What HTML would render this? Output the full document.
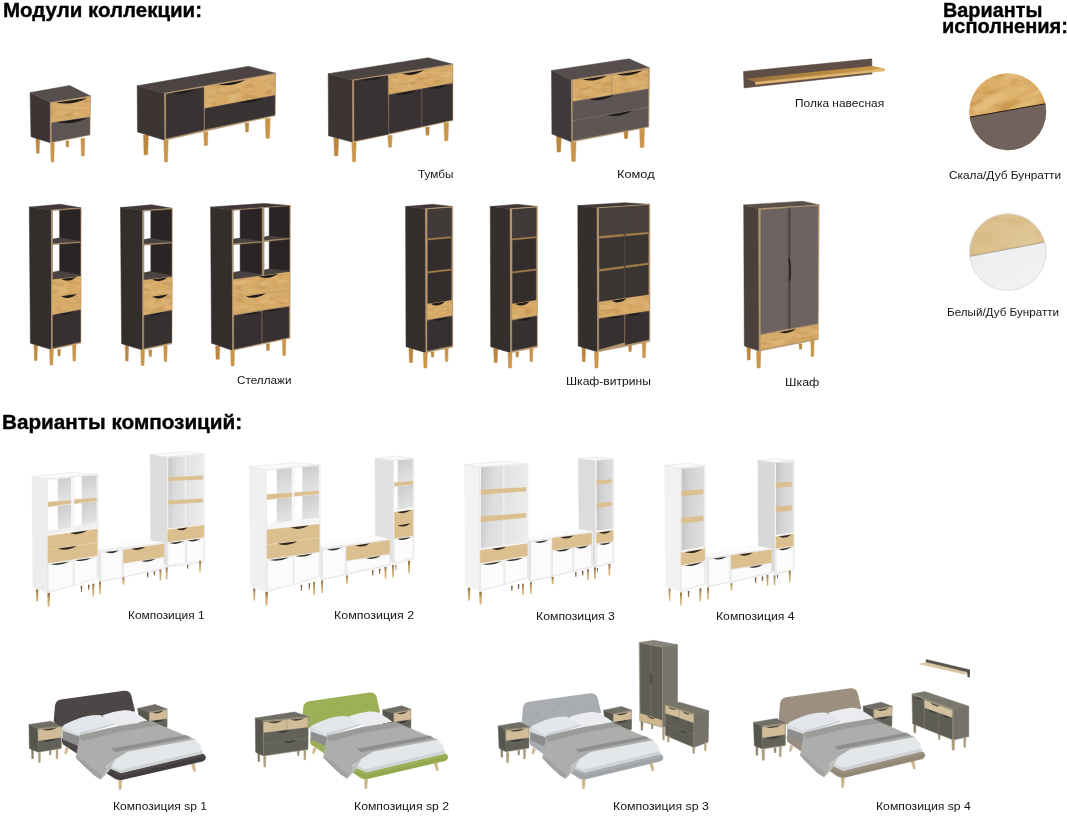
<!DOCTYPE html><html lang="ru"><head><meta charset="utf-8"><title>Модули коллекции</title><style>
html,body{margin:0;padding:0;background:#fff}
body{width:1067px;height:816px;position:relative;overflow:hidden;font-family:"Liberation Sans",sans-serif;color:#111}
svg{position:absolute;left:0;top:0;filter:blur(0.45px)}
.t{position:absolute;white-space:nowrap;line-height:1;transform-origin:0 0;margin:0}
.l{font-weight:400;color:#151515}
.h{font-weight:700;color:#000;-webkit-text-stroke:0.35px #000}
</style></head><body>
<svg width="1067" height="816" viewBox="0 0 1067 816">
<polygon points="35.9,137.8 39.6,137.8 39.1,153.3 36.5,153.3" fill="#b9873f" stroke="#b9873f" stroke-width="0.5" stroke-linejoin="round"/>
<polygon points="66.0,141.0 68.8,141.0 68.4,147.0 66.4,147.0" fill="#b9873f" stroke="#b9873f" stroke-width="0.5" stroke-linejoin="round"/>
<polygon points="30.1,92.6 50.3,102.6 50.3,142.8 31.0,136.7" fill="#3c3533" stroke="#3c3533" stroke-width="0.5" stroke-linejoin="round"/>
<polygon points="30.1,92.6 69.6,85.5 90.6,96.0 50.3,102.6" fill="#554e4c" stroke="#554e4c" stroke-width="0.5" stroke-linejoin="round"/>
<polygon points="50.3,102.6 90.6,96.0 90.0,135.1 50.3,142.8" fill="#b3946c" stroke="#b3946c" stroke-width="0.5" stroke-linejoin="round"/>
<polygon points="51.4,103.2 89.5,97.6 89.5,116.3 51.4,122.4" fill="#d8ab69" stroke="#d8ab69" stroke-width="0.7"/>
<polygon points="51.4,103.2 89.5,97.6 89.5,116.3 51.4,122.4" fill="#9a6a2c" filter="url(#grw)" opacity="0.22"/>
<polygon points="51.4,103.2 89.5,97.6 89.5,116.3 51.4,122.4" fill="#f3d6a0" filter="url(#grw2)" opacity="0.25"/>
<path d="M56.0 102.5 Q71.8 105.9 87.6 97.9 Z" fill="#1d1b1b"/>
<polygon points="52.0,123.0 89.5,117.4 89.5,134.5 52.0,141.7" fill="#5c5553" stroke="#5c5553" stroke-width="0.7"/>
<path d="M56.5 122.3 Q72.1 125.7 87.6 117.7 Z" fill="#1d1b1b"/>
<polygon points="50.5,142.8 54.4,142.8 53.8,162.0 51.1,162.0" fill="#c9954a" stroke="#c9954a" stroke-width="0.5" stroke-linejoin="round"/>
<polygon points="80.9,138.4 84.8,138.4 84.3,156.0 81.4,156.0" fill="#c9954a" stroke="#c9954a" stroke-width="0.5" stroke-linejoin="round"/>
<polygon points="143.5,135.0 148.3,135.0 147.7,154.8 144.1,154.8" fill="#b9873f" stroke="#b9873f" stroke-width="0.5" stroke-linejoin="round"/>
<polygon points="245.2,123.0 248.8,123.0 248.3,132.0 245.7,132.0" fill="#b9873f" stroke="#b9873f" stroke-width="0.5" stroke-linejoin="round"/>
<polygon points="137.2,85.8 164.5,93.3 164.8,140.2 137.5,132.0" fill="#3c3533" stroke="#3c3533" stroke-width="0.5" stroke-linejoin="round"/>
<polygon points="137.2,85.8 248.5,66.3 275.7,73.2 164.5,93.3" fill="#4b4442" stroke="#4b4442" stroke-width="0.5" stroke-linejoin="round"/>
<polygon points="164.5,93.3 275.7,73.2 275.2,115.8 164.8,140.2" fill="#b3946c" stroke="#b3946c" stroke-width="0.5" stroke-linejoin="round"/>
<polygon points="166.3,94.2 203.5,87.7 203.5,129.7 166.3,138.3" fill="#393233" stroke="#393233" stroke-width="0.7"/>
<path d="M171.9 93.2 Q184.0 95.5 196.1 89.0 Z" fill="#1d1b1b"/>
<polygon points="204.7,87.0 274.7,74.7 274.7,94.5 205.0,108.0" fill="#d8ab69" stroke="#d8ab69" stroke-width="0.7"/>
<polygon points="204.7,87.0 274.7,74.7 274.7,94.5 205.0,108.0" fill="#9a6a2c" filter="url(#grw)" opacity="0.22"/>
<polygon points="204.7,87.0 274.7,74.7 274.7,94.5 205.0,108.0" fill="#f3d6a0" filter="url(#grw2)" opacity="0.25"/>
<path d="M218.7 84.5 Q232.0 87.5 245.3 79.9 Z" fill="#1d1b1b"/>
<polygon points="205.0,108.7 274.7,95.7 274.7,114.7 205.0,129.3" fill="#393233" stroke="#393233" stroke-width="0.7"/>
<path d="M237.8 102.6 Q250.7 104.6 263.5 97.8 Z" fill="#1d1b1b"/>
<polygon points="163.8,140.2 168.2,140.2 167.5,162.0 164.5,162.0" fill="#c9954a" stroke="#c9954a" stroke-width="0.5" stroke-linejoin="round"/>
<polygon points="203.7,132.0 208.0,132.0 207.4,145.5 204.3,145.5" fill="#c9954a" stroke="#c9954a" stroke-width="0.5" stroke-linejoin="round"/>
<polygon points="265.3,118.5 270.2,118.5 269.5,138.3 266.0,138.3" fill="#c9954a" stroke="#c9954a" stroke-width="0.5" stroke-linejoin="round"/>
<polygon points="333.8,137.7 338.6,137.7 337.9,155.7 334.5,155.7" fill="#b9873f" stroke="#b9873f" stroke-width="0.5" stroke-linejoin="round"/>
<polygon points="425.6,127.2 429.4,127.2 428.8,135.2 426.2,135.2" fill="#b9873f" stroke="#b9873f" stroke-width="0.5" stroke-linejoin="round"/>
<polygon points="328.2,73.7 352.5,80.0 352.8,142.2 328.5,135.8" fill="#3c3533" stroke="#3c3533" stroke-width="0.5" stroke-linejoin="round"/>
<polygon points="328.2,73.7 428.2,57.8 453.0,64.2 352.5,80.0" fill="#4b4442" stroke="#4b4442" stroke-width="0.5" stroke-linejoin="round"/>
<polygon points="352.5,80.0 453.0,64.2 453.0,120.5 352.8,142.2" fill="#b3946c" stroke="#b3946c" stroke-width="0.5" stroke-linejoin="round"/>
<polygon points="354.3,80.7 387.7,75.8 388.2,134.0 354.7,140.7" fill="#393233" stroke="#393233" stroke-width="0.7"/>
<path d="M361.0 79.7 Q371.8 82.5 382.7 76.5 Z" fill="#1d1b1b"/>
<polygon points="389.2,75.8 452.2,65.7 452.2,82.2 389.2,93.8" fill="#d8ab69" stroke="#d8ab69" stroke-width="0.7"/>
<polygon points="389.2,75.8 452.2,65.7 452.2,82.2 389.2,93.8" fill="#9a6a2c" filter="url(#grw)" opacity="0.22"/>
<polygon points="389.2,75.8 452.2,65.7 452.2,82.2 389.2,93.8" fill="#f3d6a0" filter="url(#grw2)" opacity="0.25"/>
<path d="M401.8 73.8 Q412.8 77.3 423.9 70.2 Z" fill="#1d1b1b"/>
<polygon points="389.2,95.0 421.2,89.3 421.2,126.5 389.2,133.2" fill="#393233" stroke="#393233" stroke-width="0.7"/>
<path d="M395.6 93.9 Q406.0 96.4 416.4 90.2 Z" fill="#1d1b1b"/>
<polygon points="422.2,89.0 452.2,83.7 452.2,119.7 422.2,126.2" fill="#393233" stroke="#393233" stroke-width="0.7"/>
<path d="M428.2 87.9 Q437.9 90.6 447.7 84.5 Z" fill="#1d1b1b"/>
<polygon points="351.8,142.2 356.2,142.2 355.5,161.7 352.5,161.7" fill="#c9954a" stroke="#c9954a" stroke-width="0.5" stroke-linejoin="round"/>
<polygon points="387.8,135.5 392.2,135.5 391.5,147.2 388.5,147.2" fill="#c9954a" stroke="#c9954a" stroke-width="0.5" stroke-linejoin="round"/>
<polygon points="443.9,122.7 448.6,122.7 447.9,140.7 444.6,140.7" fill="#c9954a" stroke="#c9954a" stroke-width="0.5" stroke-linejoin="round"/>
<polygon points="556.5,135.9 561.2,135.9 560.6,152.1 557.2,152.1" fill="#b9873f" stroke="#b9873f" stroke-width="0.5" stroke-linejoin="round"/>
<polygon points="623.9,131.2 628.0,131.2 627.4,138.6 624.5,138.6" fill="#b9873f" stroke="#b9873f" stroke-width="0.5" stroke-linejoin="round"/>
<polygon points="551.5,70.5 571.3,80.0 571.7,142.0 551.9,133.9" fill="#3e3a39" stroke="#3e3a39" stroke-width="0.5" stroke-linejoin="round"/>
<polygon points="551.5,70.5 629.0,58.8 649.5,67.8 571.3,80.0" fill="#554e4c" stroke="#554e4c" stroke-width="0.5" stroke-linejoin="round"/>
<polygon points="571.3,80.0 649.5,67.8 648.9,127.1 571.7,142.0" fill="#b3946c" stroke="#b3946c" stroke-width="0.5" stroke-linejoin="round"/>
<polygon points="573.0,80.9 610.8,75.2 610.8,94.4 573.0,100.8" fill="#d8ab69" stroke="#d8ab69" stroke-width="0.7"/>
<polygon points="573.0,80.9 610.8,75.2 610.8,94.4 573.0,100.8" fill="#9a6a2c" filter="url(#grw)" opacity="0.22"/>
<polygon points="573.0,80.9 610.8,75.2 610.8,94.4 573.0,100.8" fill="#f3d6a0" filter="url(#grw2)" opacity="0.25"/>
<path d="M582.5 79.5 Q594.7 82.9 607.0 75.8 Z" fill="#1d1b1b"/>
<polygon points="612.5,75.0 647.9,69.6 647.9,88.0 612.5,93.8" fill="#d8ab69" stroke="#d8ab69" stroke-width="0.7"/>
<polygon points="612.5,75.0 647.9,69.6 647.9,88.0 612.5,93.8" fill="#9a6a2c" filter="url(#grw)" opacity="0.22"/>
<polygon points="612.5,75.0 647.9,69.6 647.9,88.0 612.5,93.8" fill="#f3d6a0" filter="url(#grw2)" opacity="0.25"/>
<path d="M616.7 74.4 Q629.7 77.7 642.6 70.4 Z" fill="#1d1b1b"/>
<polygon points="573.0,101.9 647.9,89.4 647.9,106.9 573.0,120.4" fill="#5d5655" stroke="#5d5655" stroke-width="0.7"/>
<path d="M589.5 99.2 Q601.8 102.4 614.2 95.0 Z" fill="#1d1b1b"/>
<polygon points="573.0,121.3 647.9,107.9 647.9,126.2 573.0,140.2" fill="#5d5655" stroke="#5d5655" stroke-width="0.7"/>
<path d="M606.7 115.3 Q619.8 118.2 632.9 110.6 Z" fill="#1d1b1b"/>
<polygon points="570.9,142.0 576.1,142.0 575.3,161.5 571.7,161.5" fill="#c9954a" stroke="#c9954a" stroke-width="0.5" stroke-linejoin="round"/>
<polygon points="639.6,128.5 644.5,128.5 643.8,147.4 640.3,147.4" fill="#c9954a" stroke="#c9954a" stroke-width="0.5" stroke-linejoin="round"/>
<polygon points="743.5,71.5 871.8,58.8 872.1,73.9 744.0,87.9" fill="#5f4e45" stroke="#5f4e45" stroke-width="0.5" stroke-linejoin="round"/>
<polygon points="745.9,78.7 872.6,65.9 884.6,68.8 755.5,82.2" fill="url(#shg)" />
<polygon points="755.5,82.2 884.6,68.8 884.6,70.9 755.5,84.5" fill="#e2b76f" stroke="#e2b76f" stroke-width="0.5" stroke-linejoin="round"/>
<polygon points="34.0,345.0 37.4,345.0 36.9,360.5 34.5,360.5" fill="#b9873f" stroke="#b9873f" stroke-width="0.5" stroke-linejoin="round"/>
<polygon points="57.6,349.5 60.6,349.5 60.1,356.0 58.1,356.0" fill="#b9873f" stroke="#b9873f" stroke-width="0.5" stroke-linejoin="round"/>
<polygon points="29.3,207.1 51.4,210.0 51.4,349.5 30.4,343.3" fill="#332d2c" stroke="#332d2c" stroke-width="0.5" stroke-linejoin="round"/>
<polygon points="29.3,207.1 60.2,204.3 81.2,207.8 51.4,210.0" fill="#403937" stroke="#403937" stroke-width="0.5" stroke-linejoin="round"/>
<polygon points="51.4,210.0 81.2,207.8 80.8,343.3 51.4,349.5" fill="#b3946c" stroke="#b3946c" stroke-width="0.5" stroke-linejoin="round"/>
<polygon points="53.0,210.9 80.3,208.9 80.3,241.3 53.0,239.1" fill="#2a2524" stroke="#2a2524" stroke-width="0.5" stroke-linejoin="round"/>
<polygon points="53.0,210.9 59.1,210.4 59.1,238.0 53.0,238.9" fill="#ffffff" stroke="#ffffff" stroke-width="0.5" stroke-linejoin="round"/>
<polygon points="53.0,239.1 59.1,238.0 80.3,241.1 80.3,242.7 53.0,244.4" fill="#4a4341" stroke="#4a4341" stroke-width="0.5" stroke-linejoin="round"/>
<polygon points="53.0,243.8 80.3,242.0 80.3,242.9 53.0,244.9" fill="#b3946c" stroke="#b3946c" stroke-width="0.5" stroke-linejoin="round"/>
<polygon points="53.0,245.1 80.3,243.1 80.3,275.5 53.0,272.7" fill="#2a2524" stroke="#2a2524" stroke-width="0.5" stroke-linejoin="round"/>
<polygon points="53.0,245.1 59.1,244.6 59.1,271.1 53.0,272.2" fill="#ffffff" stroke="#ffffff" stroke-width="0.5" stroke-linejoin="round"/>
<polygon points="53.0,272.2 59.1,271.1 80.3,274.9 80.3,276.2 53.0,279.3" fill="#4a4341" stroke="#4a4341" stroke-width="0.5" stroke-linejoin="round"/>
<polygon points="52.5,280.0 80.8,276.6 80.8,292.1 52.5,297.0" fill="#d8ab69" stroke="#d8ab69" stroke-width="0.7"/>
<polygon points="52.5,280.0 80.8,276.6 80.8,292.1 52.5,297.0" fill="#9a6a2c" filter="url(#grw)" opacity="0.22"/>
<polygon points="52.5,280.0 80.8,276.6 80.8,292.1 52.5,297.0" fill="#f3d6a0" filter="url(#grw2)" opacity="0.25"/>
<path d="M61.0 279.0 Q68.8 283.3 76.6 277.1 Z" fill="#1d1b1b"/>
<polygon points="52.5,297.6 80.8,293.2 80.8,308.6 52.5,314.2" fill="#d8ab69" stroke="#d8ab69" stroke-width="0.7"/>
<polygon points="52.5,297.6 80.8,293.2 80.8,308.6 52.5,314.2" fill="#9a6a2c" filter="url(#grw)" opacity="0.22"/>
<polygon points="52.5,297.6 80.8,293.2 80.8,308.6 52.5,314.2" fill="#f3d6a0" filter="url(#grw2)" opacity="0.25"/>
<path d="M61.0 296.3 Q68.8 300.4 76.6 293.9 Z" fill="#1d1b1b"/>
<polygon points="53.0,315.3 80.3,310.2 80.3,341.7 53.0,347.7" fill="#363031" stroke="#363031" stroke-width="0.7"/>
<path d="M58.5 314.3 Q66.7 316.3 74.8 311.2 Z" fill="#1d1b1b"/>
<polygon points="49.5,349.5 53.4,349.5 52.8,365.0 50.1,365.0" fill="#c9954a" stroke="#c9954a" stroke-width="0.5" stroke-linejoin="round"/>
<polygon points="72.5,345.0 76.0,345.0 75.5,361.0 73.0,361.0" fill="#c9954a" stroke="#c9954a" stroke-width="0.5" stroke-linejoin="round"/>
<polygon points="125.2,345.5 128.5,345.5 128.1,361.0 125.7,361.0" fill="#b9873f" stroke="#b9873f" stroke-width="0.5" stroke-linejoin="round"/>
<polygon points="148.8,350.0 151.8,350.0 151.3,356.5 149.3,356.5" fill="#b9873f" stroke="#b9873f" stroke-width="0.5" stroke-linejoin="round"/>
<polygon points="120.5,207.6 142.6,210.5 142.6,350.0 121.6,343.8" fill="#332d2c" stroke="#332d2c" stroke-width="0.5" stroke-linejoin="round"/>
<polygon points="120.5,207.6 151.4,204.8 172.4,208.3 142.6,210.5" fill="#403937" stroke="#403937" stroke-width="0.5" stroke-linejoin="round"/>
<polygon points="142.6,210.5 172.4,208.3 172.0,343.8 142.6,350.0" fill="#b3946c" stroke="#b3946c" stroke-width="0.5" stroke-linejoin="round"/>
<polygon points="144.2,211.4 171.5,209.4 171.5,241.8 144.2,239.6" fill="#2a2524" stroke="#2a2524" stroke-width="0.5" stroke-linejoin="round"/>
<polygon points="144.2,211.4 150.3,210.9 150.3,238.5 144.2,239.4" fill="#ffffff" stroke="#ffffff" stroke-width="0.5" stroke-linejoin="round"/>
<polygon points="144.2,239.6 150.3,238.5 171.5,241.6 171.5,243.2 144.2,244.9" fill="#4a4341" stroke="#4a4341" stroke-width="0.5" stroke-linejoin="round"/>
<polygon points="144.2,244.3 171.5,242.5 171.5,243.4 144.2,245.4" fill="#b3946c" stroke="#b3946c" stroke-width="0.5" stroke-linejoin="round"/>
<polygon points="144.2,245.6 171.5,243.6 171.5,276.0 144.2,273.2" fill="#2a2524" stroke="#2a2524" stroke-width="0.5" stroke-linejoin="round"/>
<polygon points="144.2,245.6 150.3,245.1 150.3,271.6 144.2,272.7" fill="#ffffff" stroke="#ffffff" stroke-width="0.5" stroke-linejoin="round"/>
<polygon points="144.2,272.7 150.3,271.6 171.5,275.4 171.5,276.7 144.2,279.8" fill="#4a4341" stroke="#4a4341" stroke-width="0.5" stroke-linejoin="round"/>
<polygon points="143.7,280.5 172.0,277.1 172.0,292.6 143.7,297.5" fill="#d8ab69" stroke="#d8ab69" stroke-width="0.7"/>
<polygon points="143.7,280.5 172.0,277.1 172.0,292.6 143.7,297.5" fill="#9a6a2c" filter="url(#grw)" opacity="0.22"/>
<polygon points="143.7,280.5 172.0,277.1 172.0,292.6 143.7,297.5" fill="#f3d6a0" filter="url(#grw2)" opacity="0.25"/>
<path d="M152.2 279.5 Q160.0 283.8 167.8 277.6 Z" fill="#1d1b1b"/>
<polygon points="143.7,298.1 172.0,293.7 172.0,309.1 143.7,314.7" fill="#d8ab69" stroke="#d8ab69" stroke-width="0.7"/>
<polygon points="143.7,298.1 172.0,293.7 172.0,309.1 143.7,314.7" fill="#9a6a2c" filter="url(#grw)" opacity="0.22"/>
<polygon points="143.7,298.1 172.0,293.7 172.0,309.1 143.7,314.7" fill="#f3d6a0" filter="url(#grw2)" opacity="0.25"/>
<path d="M152.2 296.8 Q160.0 300.9 167.8 294.4 Z" fill="#1d1b1b"/>
<polygon points="144.2,315.8 171.5,310.7 171.5,342.2 144.2,348.2" fill="#363031" stroke="#363031" stroke-width="0.7"/>
<path d="M149.7 314.8 Q157.8 316.8 166.0 311.7 Z" fill="#1d1b1b"/>
<polygon points="140.8,350.0 144.5,350.0 144.0,365.5 141.3,365.5" fill="#c9954a" stroke="#c9954a" stroke-width="0.5" stroke-linejoin="round"/>
<polygon points="163.7,345.5 167.2,345.5 166.7,361.5 164.2,361.5" fill="#c9954a" stroke="#c9954a" stroke-width="0.5" stroke-linejoin="round"/>
<polygon points="215.6,346.0 219.8,346.0 219.2,359.2 216.1,359.2" fill="#b9873f" stroke="#b9873f" stroke-width="0.5" stroke-linejoin="round"/>
<polygon points="266.2,343.8 269.6,343.8 269.1,350.4 266.7,350.4" fill="#b9873f" stroke="#b9873f" stroke-width="0.5" stroke-linejoin="round"/>
<polygon points="210.6,207.1 232.0,210.0 232.6,350.4 211.5,343.2" fill="#332d2c" stroke="#332d2c" stroke-width="0.5" stroke-linejoin="round"/>
<polygon points="210.6,207.1 263.9,203.4 290.4,205.6 232.0,210.0" fill="#403937" stroke="#403937" stroke-width="0.5" stroke-linejoin="round"/>
<polygon points="232.0,210.0 290.4,205.6 290.0,338.3 232.6,350.4" fill="#b3946c" stroke="#b3946c" stroke-width="0.5" stroke-linejoin="round"/>
<polygon points="233.7,210.7 261.7,208.4 261.7,241.7 233.7,239.1" fill="#2a2524" stroke="#2a2524" stroke-width="0.5" stroke-linejoin="round"/>
<polygon points="233.7,210.7 239.7,210.2 239.7,238.2 233.7,239.1" fill="#fff" stroke="#fff" stroke-width="0.5" stroke-linejoin="round"/>
<polygon points="233.7,239.1 239.7,238.2 261.7,241.3 261.7,242.4 233.7,244.4" fill="#4a4341" stroke="#4a4341" stroke-width="0.5" stroke-linejoin="round"/>
<polygon points="233.7,243.7 261.7,241.7 261.7,242.6 233.7,244.8" fill="#b3946c" stroke="#b3946c" stroke-width="0.5" stroke-linejoin="round"/>
<polygon points="233.7,245.0 261.7,242.8 261.7,274.8 233.7,272.6" fill="#2a2524" stroke="#2a2524" stroke-width="0.5" stroke-linejoin="round"/>
<polygon points="233.7,245.0 239.7,244.6 239.7,271.3 233.7,272.4" fill="#fff" stroke="#fff" stroke-width="0.5" stroke-linejoin="round"/>
<polygon points="233.7,272.4 239.7,271.3 261.7,274.4 261.7,275.7 233.7,279.2" fill="#4a4341" stroke="#4a4341" stroke-width="0.5" stroke-linejoin="round"/>
<polygon points="264.4,208.0 289.3,206.2 289.3,238.7 264.4,236.9" fill="#2a2524" stroke="#2a2524" stroke-width="0.5" stroke-linejoin="round"/>
<polygon points="264.4,208.0 268.8,207.8 268.8,236.0 264.4,236.9" fill="#fff" stroke="#fff" stroke-width="0.5" stroke-linejoin="round"/>
<polygon points="264.4,236.9 268.8,236.0 289.3,238.2 289.3,239.1 264.4,241.3" fill="#4a4341" stroke="#4a4341" stroke-width="0.5" stroke-linejoin="round"/>
<polygon points="264.4,240.6 289.3,238.4 289.3,239.3 264.4,241.7" fill="#b3946c" stroke="#b3946c" stroke-width="0.5" stroke-linejoin="round"/>
<polygon points="264.4,242.0 289.3,239.5 289.3,271.5 264.4,270.0" fill="#2a2524" stroke="#2a2524" stroke-width="0.5" stroke-linejoin="round"/>
<polygon points="264.4,242.0 268.8,241.5 268.8,269.1 264.4,270.0" fill="#fff" stroke="#fff" stroke-width="0.5" stroke-linejoin="round"/>
<polygon points="264.4,270.0 268.8,269.1 289.3,271.1 289.3,271.9 264.4,275.2" fill="#4a4341" stroke="#4a4341" stroke-width="0.5" stroke-linejoin="round"/>
<polygon points="233.5,279.9 289.3,272.2 289.3,288.7 233.5,296.9" fill="#d8ab69" stroke="#d8ab69" stroke-width="0.7"/>
<polygon points="233.5,279.9 289.3,272.2 289.3,288.7 233.5,296.9" fill="#9a6a2c" filter="url(#grw)" opacity="0.22"/>
<polygon points="233.5,279.9 289.3,272.2 289.3,288.7 233.5,296.9" fill="#f3d6a0" filter="url(#grw2)" opacity="0.25"/>
<path d="M258.6 276.4 Q268.4 280.4 278.1 273.7 Z" fill="#1d1b1b"/>
<polygon points="233.5,298.2 289.3,289.8 289.3,305.2 233.5,314.0" fill="#d8ab69" stroke="#d8ab69" stroke-width="0.7"/>
<polygon points="233.5,298.2 289.3,289.8 289.3,305.2 233.5,314.0" fill="#9a6a2c" filter="url(#grw)" opacity="0.22"/>
<polygon points="233.5,298.2 289.3,289.8 289.3,305.2 233.5,314.0" fill="#f3d6a0" filter="url(#grw2)" opacity="0.25"/>
<path d="M245.8 296.4 Q255.8 300.1 265.9 293.3 Z" fill="#1d1b1b"/>
<polygon points="234.2,315.8 261.3,311.4 261.3,343.1 234.2,348.9" fill="#363031" stroke="#363031" stroke-width="0.7"/>
<path d="M242.3 314.5 Q251.1 316.6 259.9 311.6 Z" fill="#1d1b1b"/>
<polygon points="262.6,311.0 288.8,307.0 288.8,337.2 262.6,342.7" fill="#363031" stroke="#363031" stroke-width="0.7"/>
<path d="M263.9 310.8 Q272.4 313.0 280.9 308.2 Z" fill="#1d1b1b"/>
<polygon points="230.6,350.4 234.5,350.4 234.0,365.9 231.1,365.9" fill="#c9954a" stroke="#c9954a" stroke-width="0.5" stroke-linejoin="round"/>
<polygon points="282.3,339.4 285.9,339.4 285.4,355.5 282.8,355.5" fill="#c9954a" stroke="#c9954a" stroke-width="0.5" stroke-linejoin="round"/>
<polygon points="408.9,348.2 413.0,348.2 412.4,362.6 409.5,362.6" fill="#b9873f" stroke="#b9873f" stroke-width="0.5" stroke-linejoin="round"/>
<polygon points="431.0,352.0 434.0,352.0 433.5,357.0 431.5,357.0" fill="#b9873f" stroke="#b9873f" stroke-width="0.5" stroke-linejoin="round"/>
<polygon points="405.6,206.5 425.4,208.7 425.9,352.7 406.0,346.7" fill="#342e2d" stroke="#342e2d" stroke-width="0.5" stroke-linejoin="round"/>
<polygon points="405.6,206.5 432.5,204.3 452.8,206.5 425.4,208.7" fill="#403937" stroke="#403937" stroke-width="0.5" stroke-linejoin="round"/>
<polygon points="425.4,208.7 452.8,206.5 452.8,347.2 425.9,352.7" fill="#b3946c" stroke="#b3946c" stroke-width="0.5" stroke-linejoin="round"/>
<polygon points="427.9,209.8 451.2,208.0 451.2,300.4 427.9,303.7" fill="#332d2c" stroke="#332d2c" stroke-width="0.5" stroke-linejoin="round"/>
<polygon points="427.9,209.8 451.2,208.0 451.2,236.9 427.9,238.7" fill="#403a38" stroke="#403a38" stroke-width="0.5" stroke-linejoin="round"/>
<polygon points="427.9,238.7 451.2,236.7 451.2,237.8 427.9,240.0" fill="#a9814a" stroke="#a9814a" stroke-width="0.5" stroke-linejoin="round"/>
<polygon points="427.9,271.7 451.2,269.1 451.2,270.2 427.9,273.1" fill="#a9814a" stroke="#a9814a" stroke-width="0.5" stroke-linejoin="round"/>
<polygon points="427.6,304.2 451.9,300.4 451.9,314.5 427.6,318.9" fill="#d8ab69" stroke="#d8ab69" stroke-width="0.7"/>
<polygon points="427.6,304.2 451.9,300.4 451.9,314.5 427.6,318.9" fill="#9a6a2c" filter="url(#grw)" opacity="0.22"/>
<polygon points="427.6,304.2 451.9,300.4 451.9,314.5 427.6,318.9" fill="#f3d6a0" filter="url(#grw2)" opacity="0.25"/>
<path d="M430.5 303.7 Q437.8 308.3 445.1 301.5 Z" fill="#1d1b1b"/>
<polygon points="427.6,320.7 451.9,316.3 451.9,345.4 427.6,350.5" fill="#363031" stroke="#363031" stroke-width="0.7"/>
<path d="M432.5 319.8 Q440.4 322.8 448.3 317.0 Z" fill="#1d1b1b"/>
<polygon points="423.3,352.7 427.4,352.7 426.8,368.0 423.9,368.0" fill="#c9954a" stroke="#c9954a" stroke-width="0.5" stroke-linejoin="round"/>
<polygon points="444.9,348.2 448.2,348.2 447.8,361.5 445.4,361.5" fill="#c9954a" stroke="#c9954a" stroke-width="0.5" stroke-linejoin="round"/>
<polygon points="493.6,348.2 497.7,348.2 497.1,362.6 494.2,362.6" fill="#b9873f" stroke="#b9873f" stroke-width="0.5" stroke-linejoin="round"/>
<polygon points="515.8,352.0 518.7,352.0 518.2,357.0 516.2,357.0" fill="#b9873f" stroke="#b9873f" stroke-width="0.5" stroke-linejoin="round"/>
<polygon points="490.3,206.5 510.1,208.7 510.6,352.7 490.7,346.7" fill="#342e2d" stroke="#342e2d" stroke-width="0.5" stroke-linejoin="round"/>
<polygon points="490.3,206.5 517.2,204.3 537.5,206.5 510.1,208.7" fill="#403937" stroke="#403937" stroke-width="0.5" stroke-linejoin="round"/>
<polygon points="510.1,208.7 537.5,206.5 537.5,347.2 510.6,352.7" fill="#b3946c" stroke="#b3946c" stroke-width="0.5" stroke-linejoin="round"/>
<polygon points="512.6,209.8 535.9,208.0 535.9,300.4 512.6,303.7" fill="#332d2c" stroke="#332d2c" stroke-width="0.5" stroke-linejoin="round"/>
<polygon points="512.6,209.8 535.9,208.0 535.9,236.9 512.6,238.7" fill="#403a38" stroke="#403a38" stroke-width="0.5" stroke-linejoin="round"/>
<polygon points="512.6,238.7 535.9,236.7 535.9,237.8 512.6,240.0" fill="#a9814a" stroke="#a9814a" stroke-width="0.5" stroke-linejoin="round"/>
<polygon points="512.6,271.7 535.9,269.1 535.9,270.2 512.6,273.1" fill="#a9814a" stroke="#a9814a" stroke-width="0.5" stroke-linejoin="round"/>
<polygon points="512.3,304.2 536.6,300.4 536.6,314.5 512.3,318.9" fill="#d8ab69" stroke="#d8ab69" stroke-width="0.7"/>
<polygon points="512.3,304.2 536.6,300.4 536.6,314.5 512.3,318.9" fill="#9a6a2c" filter="url(#grw)" opacity="0.22"/>
<polygon points="512.3,304.2 536.6,300.4 536.6,314.5 512.3,318.9" fill="#f3d6a0" filter="url(#grw2)" opacity="0.25"/>
<path d="M515.2 303.7 Q522.5 308.3 529.8 301.5 Z" fill="#1d1b1b"/>
<polygon points="512.3,320.7 536.6,316.3 536.6,345.4 512.3,350.5" fill="#363031" stroke="#363031" stroke-width="0.7"/>
<path d="M517.2 319.8 Q525.1 322.8 533.0 317.0 Z" fill="#1d1b1b"/>
<polygon points="508.0,352.7 512.0,352.7 511.5,368.0 508.6,368.0" fill="#c9954a" stroke="#c9954a" stroke-width="0.5" stroke-linejoin="round"/>
<polygon points="529.6,348.2 533.0,348.2 532.5,361.5 530.1,361.5" fill="#c9954a" stroke="#c9954a" stroke-width="0.5" stroke-linejoin="round"/>
<polygon points="581.9,347.0 585.6,347.0 585.1,361.5 582.4,361.5" fill="#b9873f" stroke="#b9873f" stroke-width="0.5" stroke-linejoin="round"/>
<polygon points="628.6,345.4 631.6,345.4 631.1,351.5 629.1,351.5" fill="#b9873f" stroke="#b9873f" stroke-width="0.5" stroke-linejoin="round"/>
<polygon points="577.8,205.6 597.0,207.8 597.6,352.0 578.2,346.0" fill="#342e2d" stroke="#342e2d" stroke-width="0.5" stroke-linejoin="round"/>
<polygon points="577.8,205.6 624.5,202.7 649.9,204.3 597.0,207.8" fill="#403937" stroke="#403937" stroke-width="0.5" stroke-linejoin="round"/>
<polygon points="597.0,207.8 649.9,204.3 649.9,341.6 597.6,352.0" fill="#b3946c" stroke="#b3946c" stroke-width="0.5" stroke-linejoin="round"/>
<polygon points="599.4,208.7 648.3,205.4 648.3,294.6 599.4,301.5" fill="#3a3432" stroke="#3a3432" stroke-width="0.5" stroke-linejoin="round"/>
<polygon points="599.4,208.7 648.3,205.4 648.3,232.5 599.4,236.4" fill="#47403d" stroke="#47403d" stroke-width="0.5" stroke-linejoin="round"/>
<polygon points="599.4,236.4 648.3,232.3 648.3,233.8 599.4,238.2" fill="#a9814a" stroke="#a9814a" stroke-width="0.5" stroke-linejoin="round"/>
<polygon points="599.4,269.5 648.3,262.9 648.3,264.4 599.4,271.3" fill="#a9814a" stroke="#a9814a" stroke-width="0.5" stroke-linejoin="round"/>
<polygon points="624.1,207.1 625.0,207.1 625.0,297.7 624.1,298.0" fill="#4a4442" stroke="#4a4442" stroke-width="0.5" stroke-linejoin="round"/>
<polygon points="599.2,302.6 648.8,295.3 648.8,310.1 599.2,317.4" fill="#d8ab69" stroke="#d8ab69" stroke-width="0.7"/>
<polygon points="599.2,302.6 648.8,295.3 648.8,310.1 599.2,317.4" fill="#9a6a2c" filter="url(#grw)" opacity="0.22"/>
<polygon points="599.2,302.6 648.8,295.3 648.8,310.1 599.2,317.4" fill="#f3d6a0" filter="url(#grw2)" opacity="0.25"/>
<path d="M611.6 300.8 Q619.0 305.0 626.5 298.6 Z" fill="#1d1b1b"/>
<polygon points="599.2,318.9 624.1,315.2 624.1,342.3 599.2,349.3" fill="#363031" stroke="#363031" stroke-width="0.7"/>
<path d="M606.7 317.8 Q614.8 320.1 622.9 315.4 Z" fill="#1d1b1b"/>
<polygon points="625.4,314.9 648.8,311.4 648.8,339.4 625.4,344.5" fill="#363031" stroke="#363031" stroke-width="0.7"/>
<path d="M626.6 314.7 Q634.2 317.1 641.8 312.4 Z" fill="#1d1b1b"/>
<polygon points="594.4,352.0 598.5,352.0 597.9,368.0 595.0,368.0" fill="#c9954a" stroke="#c9954a" stroke-width="0.5" stroke-linejoin="round"/>
<polygon points="642.2,342.3 645.9,342.3 645.3,357.7 642.8,357.7" fill="#c9954a" stroke="#c9954a" stroke-width="0.5" stroke-linejoin="round"/>
<polygon points="746.9,347.0 750.6,347.0 750.1,360.0 747.4,360.0" fill="#b9873f" stroke="#b9873f" stroke-width="0.5" stroke-linejoin="round"/>
<polygon points="799.0,343.8 802.0,343.8 801.5,349.3 799.5,349.3" fill="#b9873f" stroke="#b9873f" stroke-width="0.5" stroke-linejoin="round"/>
<polygon points="743.7,204.9 758.7,208.7 759.1,351.1 744.3,346.0" fill="#4a413c" stroke="#4a413c" stroke-width="0.5" stroke-linejoin="round"/>
<polygon points="743.7,204.9 802.8,201.2 819.3,204.9 758.7,208.7" fill="#5a4f49" stroke="#5a4f49" stroke-width="0.5" stroke-linejoin="round"/>
<polygon points="758.7,208.7 819.3,204.9 818.2,339.4 759.1,351.1" fill="#b3946c" stroke="#b3946c" stroke-width="0.5" stroke-linejoin="round"/>
<polygon points="760.9,210.0 788.4,208.2 788.4,328.4 760.9,333.9" fill="#6c6360" stroke="#6c6360" stroke-width="0.5" stroke-linejoin="round"/>
<polygon points="790.0,207.8 817.7,206.0 817.7,323.3 790.0,328.4" fill="#6c6360" stroke="#6c6360" stroke-width="0.5" stroke-linejoin="round"/>
<polygon points="788.4,208.2 790.0,207.8 790.0,328.4 788.4,328.4" fill="#4a4340" stroke="#4a4340" stroke-width="0.5" stroke-linejoin="round"/>
<polygon points="760.9,335.7 817.7,325.1 817.7,337.9 760.9,349.3" fill="#d8ab69" stroke="#d8ab69" stroke-width="0.7"/>
<polygon points="760.9,335.7 817.7,325.1 817.7,337.9 760.9,349.3" fill="#9a6a2c" filter="url(#grw)" opacity="0.22"/>
<polygon points="760.9,335.7 817.7,325.1 817.7,337.9 760.9,349.3" fill="#f3d6a0" filter="url(#grw2)" opacity="0.25"/>
<path d="M779.6 332.2 Q787.9 335.1 796.1 329.1 Z" fill="#1d1b1b"/>
<path d="M789 259 Q791.5 270 789.4 281" stroke="#1d1b1b" stroke-width="1.3" fill="none"/>
<polygon points="756.5,351.1 760.8,351.1 760.2,368.0 757.1,368.0" fill="#c9954a" stroke="#c9954a" stroke-width="0.5" stroke-linejoin="round"/>
<polygon points="810.8,340.5 814.1,340.5 813.7,356.4 811.2,356.4" fill="#c9954a" stroke="#c9954a" stroke-width="0.5" stroke-linejoin="round"/>
<defs>
<clipPath id="c1"><circle cx="1007.7" cy="111.8" r="38.5"/></clipPath>
<clipPath id="c2"><circle cx="1007.8" cy="252" r="38.4"/></clipPath>
<linearGradient id="w1" x1="0" y1="0" x2="1" y2="0.3"><stop offset="0" stop-color="#d9aa62"/><stop offset="0.5" stop-color="#dfb36d"/><stop offset="1" stop-color="#d6a65d"/></linearGradient>
<linearGradient id="w2" x1="0" y1="0" x2="1" y2="0.3"><stop offset="0" stop-color="#d9bd8a"/><stop offset="1" stop-color="#e2c898"/></linearGradient>
<linearGradient id="wh" x1="0" y1="0" x2="1" y2="1"><stop offset="0" stop-color="#ececee"/><stop offset="1" stop-color="#f4f4f6"/></linearGradient>
<linearGradient id="gi" x1="0" y1="0" x2="1" y2="0.15"><stop offset="0" stop-color="#c6c6c6"/><stop offset="0.3" stop-color="#dddddd"/><stop offset="1" stop-color="#ebebeb"/></linearGradient>
<linearGradient id="gi2" x1="0" y1="0" x2="1" y2="0.1"><stop offset="0" stop-color="#c2c2c2"/><stop offset="0.35" stop-color="#d2d2d2"/><stop offset="1" stop-color="#dedede"/></linearGradient>
<linearGradient id="shg" x1="0" y1="0" x2="1" y2="0"><stop offset="0" stop-color="#94703f"/><stop offset="0.6" stop-color="#b98a42"/><stop offset="1" stop-color="#cf9c48"/></linearGradient>
<filter id="grw" x="0" y="0" width="100%" height="100%" color-interpolation-filters="sRGB"><feTurbulence type="fractalNoise" baseFrequency="0.09 0.22" numOctaves="2" seed="4"/><feColorMatrix type="matrix" values="0 0 0 0 0.60  0 0 0 0 0.42  0 0 0 0 0.17  4.5 0 0 0 -2.3"/><feComposite operator="in" in2="SourceGraphic"/></filter>
<filter id="grw2" x="0" y="0" width="100%" height="100%" color-interpolation-filters="sRGB"><feTurbulence type="fractalNoise" baseFrequency="0.07 0.2" numOctaves="2" seed="9"/><feColorMatrix type="matrix" values="0 0 0 0 0.95  0 0 0 0 0.84  0 0 0 0 0.63  0 4.5 0 0 -2.35"/><feComposite operator="in" in2="SourceGraphic"/></filter>
<linearGradient id="ng" x1="0" y1="0" x2="0.3" y2="1"><stop offset="0" stop-color="#c9c9c9"/><stop offset="1" stop-color="#e2e2e2"/></linearGradient>
<linearGradient id="lg" x1="0" y1="0" x2="0" y2="1"><stop offset="0" stop-color="#8a7049"/><stop offset="0.45" stop-color="#c7a36a"/><stop offset="1" stop-color="#dbb980"/></linearGradient>
<linearGradient id="lgb" x1="0" y1="0" x2="0" y2="1"><stop offset="0" stop-color="#5e4e38"/><stop offset="1" stop-color="#a48a62"/></linearGradient>
<filter id="gr" x="0" y="0" width="100%" height="100%" color-interpolation-filters="sRGB"><feTurbulence type="fractalNoise" baseFrequency="0.03 0.1" numOctaves="3" seed="11"/><feColorMatrix type="matrix" values="0 0 0 0 0.70  0 0 0 0 0.47  0 0 0 0 0.18  5 0 0 0 -2.45"/><feComposite operator="in" in2="SourceGraphic"/></filter>
<filter id="grl" x="0" y="0" width="100%" height="100%" color-interpolation-filters="sRGB"><feTurbulence type="fractalNoise" baseFrequency="0.025 0.08" numOctaves="2" seed="23"/><feColorMatrix type="matrix" values="0 0 0 0 0.93  0 0 0 0 0.80  0 0 0 0 0.58  0 5 0 0 -2.6"/><feComposite operator="in" in2="SourceGraphic"/></filter>
<filter id="gr2" x="0" y="0" width="100%" height="100%" color-interpolation-filters="sRGB"><feTurbulence type="fractalNoise" baseFrequency="0.03 0.12" numOctaves="2" seed="5"/><feColorMatrix type="matrix" values="0 0 0 0 0.80  0 0 0 0 0.67  0 0 0 0 0.44  4 0 0 0 -2.0"/><feComposite operator="in" in2="SourceGraphic"/></filter>
</defs>
<g clip-path="url(#c1)"><rect x="960" y="66" width="100" height="92" fill="url(#w1)"/><g transform="rotate(-22 1007 95)" opacity="0.42"><rect x="950" y="50" width="120" height="90" fill="#b07d3a" filter="url(#gr)"/><rect x="950" y="50" width="120" height="90" fill="#fff" filter="url(#grl)"/></g><polygon points="960,118.8 1060,101.2 1060,160 960,160" fill="#70625c"/><line x1="960" y1="118.8" x2="1060" y2="101.2" stroke="#2a1a10" stroke-width="1.1"/></g>
<g clip-path="url(#c2)"><rect x="960" y="205" width="100" height="90" fill="url(#w2)"/><rect x="960" y="205" width="100" height="60" fill="#c9a76e" filter="url(#gr2)" opacity="0.3"/><polygon points="960,258.2 1060,239.3 1060,300 960,300" fill="url(#wh)"/><line x1="960" y1="258.2" x2="1060" y2="239.3" stroke="#9c968a" stroke-width="0.8"/></g>
<circle cx="1007.8" cy="252" r="38.4" fill="none" stroke="#dededf" stroke-width="0.9"/>
<polygon points="35.9,589.0 38.5,589.0 38.2,601.5 36.2,601.5" fill="url(#lg)" />
<polygon points="80.7,585.8 82.2,585.8 82.0,592.1 80.9,592.1" fill="url(#lgb)" />
<polygon points="88.0,584.8 89.5,584.8 89.3,590.0 88.2,590.0" fill="url(#lgb)" />
<polygon points="146.9,572.3 148.5,572.3 148.3,577.5 147.1,577.5" fill="url(#lgb)" />
<polygon points="153.6,570.8 155.2,570.8 154.9,575.4 153.8,575.4" fill="url(#lgb)" />
<polygon points="186.9,564.0 188.5,564.0 188.3,568.8 187.1,568.8" fill="url(#lgb)" />
<polygon points="32.1,476.5 47.1,479.2 47.5,593.1 32.9,587.5" fill="#ededed" stroke="#ededed" stroke-width="0.5" stroke-linejoin="round"/>
<polygon points="32.1,476.5 72.1,472.3 98.1,474.4 47.1,479.2" fill="#fafafa" stroke="#dcdcdc" stroke-width="0.5" stroke-linejoin="round"/>
<polygon points="47.1,479.2 98.1,474.4 98.1,577.5 47.5,593.1" fill="#f6f6f6" stroke="#dcdcdc" stroke-width="0.5" stroke-linejoin="round"/>
<polygon points="48.1,480.0 71.0,477.5 71.0,500.8 48.1,502.5" fill="url(#ng)" />
<polygon points="48.1,480.0 57.5,479.0 57.5,501.0 48.1,502.5" fill="#ffffff" stroke="#ffffff" stroke-width="0.5" stroke-linejoin="round"/>
<polygon points="74.6,477.1 96.7,475.4 96.7,498.8 74.6,500.4" fill="url(#ng)" />
<polygon points="74.6,477.1 81.5,476.6 81.5,499.1 74.6,500.4" fill="#ffffff" stroke="#ffffff" stroke-width="0.5" stroke-linejoin="round"/>
<polygon points="48.1,507.1 71.0,504.6 71.0,527.9 48.1,531.0" fill="url(#ng)" />
<polygon points="48.1,507.1 57.5,506.1 57.5,528.9 48.1,531.0" fill="#ffffff" stroke="#ffffff" stroke-width="0.5" stroke-linejoin="round"/>
<polygon points="74.6,503.5 96.7,501.5 96.7,522.7 74.6,526.2" fill="url(#ng)" />
<polygon points="74.6,503.5 81.5,502.9 81.5,524.3 74.6,526.2" fill="#ffffff" stroke="#ffffff" stroke-width="0.5" stroke-linejoin="round"/>
<polygon points="48.1,502.1 71.0,500.4 71.0,503.5 48.1,506.7" fill="#dcbf8e" stroke="#dcbf8e" stroke-width="0.5" stroke-linejoin="round"/>
<polygon points="74.6,499.4 96.7,498.3 96.7,500.8 74.6,503.5" fill="#dcbf8e" stroke="#dcbf8e" stroke-width="0.5" stroke-linejoin="round"/>
<polygon points="48.1,531.0 71.0,527.9 71.0,529.6 48.1,534.8" fill="#efefef" stroke="#efefef" stroke-width="0.5" stroke-linejoin="round"/>
<polygon points="74.6,526.2 96.7,522.7 96.7,527.5 74.6,531.7" fill="#efefef" stroke="#efefef" stroke-width="0.5" stroke-linejoin="round"/>
<polygon points="48.1,536.2 97.1,529.2 97.1,542.1 48.1,549.4" fill="#dcbf8e" stroke="#dcbf8e" stroke-width="0.7"/>
<path d="M70.2 533.1 Q78.7 536.4 87.3 530.6 Z" fill="#2f2a25"/>
<polygon points="48.1,550.0 97.1,543.1 97.1,555.6 48.1,562.9" fill="#dcbf8e" stroke="#dcbf8e" stroke-width="0.7"/>
<path d="M57.9 548.6 Q67.2 551.9 76.5 546.0 Z" fill="#2f2a25"/>
<polygon points="48.1,564.6 73.1,560.8 73.1,585.8 48.1,591.7" fill="#fbfbfb" stroke="#dcdcdc" stroke-width="0.5"/>
<path d="M50.6 564.2 Q60.0 566.5 69.4 561.4 Z" fill="#3a3632"/>
<polygon points="74.2,560.4 97.1,557.1 97.1,577.9 74.2,585.4" fill="#fbfbfb" stroke="#dcdcdc" stroke-width="0.5"/>
<path d="M75.3 560.2 Q83.3 562.8 91.4 557.9 Z" fill="#3a3632"/>
<polygon points="47.4,593.1 50.0,593.1 49.6,606.7 47.7,606.7" fill="url(#lg)" />
<polygon points="92.2,583.8 94.3,583.8 94.0,596.3 92.5,596.3" fill="url(#lg)" />
<polygon points="150.2,454.6 166.9,457.1 167.5,567.5 150.8,540.0" fill="#dddddd" stroke="#dddddd" stroke-width="0.5" stroke-linejoin="round"/>
<polygon points="150.2,454.6 186.7,451.5 204.4,454.2 166.9,457.1" fill="#fafafa" stroke="#dcdcdc" stroke-width="0.5" stroke-linejoin="round"/>
<polygon points="166.9,457.1 204.4,454.2 204.4,562.9 166.9,567.1" fill="#f4f4f4" stroke="#dcdcdc" stroke-width="0.5" stroke-linejoin="round"/>
<polygon points="168.3,457.7 202.9,455.0 202.9,524.4 168.3,528.5" fill="url(#gi)" />
<polygon points="185.4,456.2 186.0,456.2 186.0,526.2 185.4,526.5" fill="#f2f2f2" stroke="#f2f2f2" stroke-width="0.5" stroke-linejoin="round"/>
<polygon points="168.3,477.5 202.9,475.8 202.9,479.2 168.3,480.8" fill="#dcbf8e" stroke="#dcbf8e" stroke-width="0.5" stroke-linejoin="round"/>
<polygon points="168.3,500.8 202.9,498.8 202.9,502.1 168.3,504.2" fill="#dcbf8e" stroke="#dcbf8e" stroke-width="0.5" stroke-linejoin="round"/>
<polygon points="167.9,530.0 203.8,525.4 203.8,536.9 167.9,541.7" fill="#dcbf8e" stroke="#dcbf8e" stroke-width="0.7"/>
<path d="M176.9 528.9 Q182.2 532.3 187.6 527.5 Z" fill="#2f2a25"/>
<polygon points="167.9,543.1 185.6,540.8 185.6,562.9 167.9,566.0" fill="#fcfcfc" stroke="#dcdcdc" stroke-width="0.5"/>
<path d="M169.7 542.9 Q176.8 545.7 183.9 541.1 Z" fill="#3a3632"/>
<polygon points="186.7,540.6 203.8,538.3 203.8,560.8 186.7,562.9" fill="#fcfcfc" stroke="#dcdcdc" stroke-width="0.5"/>
<path d="M187.5 540.5 Q193.9 543.3 200.3 538.8 Z" fill="#3a3632"/>
<polygon points="165.7,567.5 167.7,567.5 167.4,579.6 165.9,579.6" fill="url(#lg)" />
<polygon points="199.1,560.8 201.1,560.8 200.8,571.7 199.3,571.7" fill="url(#lg)" />
<polygon points="98.1,546.7 100.2,550.4 100.2,581.7 98.8,580.0" fill="#e4e4e4" stroke="#e4e4e4" stroke-width="0.5" stroke-linejoin="round"/>
<polygon points="98.1,546.7 145.0,539.6 164.2,543.1 100.2,550.4" fill="#fbfbfb" stroke="#fbfbfb" stroke-width="0.5" stroke-linejoin="round"/>
<polygon points="100.2,550.4 164.2,543.1 164.2,569.2 100.2,581.7" fill="#f1f1f1" stroke="#dcdcdc" stroke-width="0.5" stroke-linejoin="round"/>
<polygon points="100.8,552.5 122.1,550.0 122.1,577.5 100.8,580.8" fill="#fbfbfb" stroke="#dcdcdc" stroke-width="0.5"/>
<path d="M105.1 552.0 Q112.0 554.9 118.9 550.4 Z" fill="#3a3632"/>
<polygon points="123.5,550.0 163.8,544.2 163.8,556.7 123.5,562.9" fill="#dcbf8e" stroke="#dcbf8e" stroke-width="0.7"/>
<path d="M131.6 548.8 Q138.6 552.0 145.7 546.8 Z" fill="#2f2a25"/>
<polygon points="123.5,563.8 163.8,557.5 163.8,568.3 123.5,576.5" fill="#fbfbfb" stroke="#dcdcdc" stroke-width="0.5"/>
<path d="M141.6 560.9 Q148.7 563.5 155.7 558.8 Z" fill="#3a3632"/>
<polygon points="99.0,581.7 101.0,581.7 100.8,594.2 99.3,594.2" fill="url(#lg)" />
<polygon points="122.3,577.5 124.5,577.5 124.2,584.8 122.7,584.8" fill="url(#lg)" />
<polygon points="159.4,569.6 161.4,569.6 161.2,580.6 159.7,580.6" fill="url(#lg)" />
<polygon points="253.2,588.3 255.4,588.3 255.1,600.4 253.5,600.4" fill="url(#lg)" />
<polygon points="300.7,584.8 302.2,584.8 302.0,591.0 300.9,591.0" fill="url(#lgb)" />
<polygon points="308.6,583.3 310.2,583.3 309.9,589.6 308.8,589.6" fill="url(#lgb)" />
<polygon points="371.9,570.2 373.5,570.2 373.3,575.4 372.1,575.4" fill="url(#lgb)" />
<polygon points="378.8,568.8 380.4,568.8 380.2,573.8 379.0,573.8" fill="url(#lgb)" />
<polygon points="395.5,565.0 396.4,565.0 396.3,570.2 395.6,570.2" fill="url(#lgb)" />
<polygon points="249.4,466.7 266.0,469.6 266.7,592.1 250.4,586.9" fill="#f0f0f0" stroke="#f0f0f0" stroke-width="0.5" stroke-linejoin="round"/>
<polygon points="249.4,466.7 294.2,462.5 320.2,465.0 266.0,469.6" fill="#fafafa" stroke="#dcdcdc" stroke-width="0.5" stroke-linejoin="round"/>
<polygon points="266.0,469.6 320.2,465.0 320.2,576.5 266.7,592.1" fill="#f6f6f6" stroke="#dcdcdc" stroke-width="0.5" stroke-linejoin="round"/>
<polygon points="267.1,470.2 291.7,468.1 291.7,493.5 267.1,495.0" fill="url(#ng)" />
<polygon points="267.1,470.2 276.5,469.4 276.5,493.6 267.1,495.0" fill="#ffffff" stroke="#ffffff" stroke-width="0.5" stroke-linejoin="round"/>
<polygon points="294.6,467.5 318.8,466.0 318.8,491.5 294.6,493.3" fill="url(#ng)" />
<polygon points="294.6,467.5 302.1,467.0 302.1,491.9 294.6,493.3" fill="#ffffff" stroke="#ffffff" stroke-width="0.5" stroke-linejoin="round"/>
<polygon points="267.1,500.0 291.7,497.3 291.7,520.6 267.1,523.8" fill="url(#ng)" />
<polygon points="267.1,500.0 276.5,499.0 276.5,521.7 267.1,523.8" fill="#ffffff" stroke="#ffffff" stroke-width="0.5" stroke-linejoin="round"/>
<polygon points="294.6,496.7 318.8,494.6 318.8,517.5 294.6,520.6" fill="url(#ng)" />
<polygon points="294.6,496.7 302.1,496.0 302.1,518.8 294.6,520.6" fill="#ffffff" stroke="#ffffff" stroke-width="0.5" stroke-linejoin="round"/>
<polygon points="267.1,494.6 291.7,493.1 291.7,496.7 267.1,499.6" fill="#dcbf8e" stroke="#dcbf8e" stroke-width="0.5" stroke-linejoin="round"/>
<polygon points="294.6,492.5 318.8,491.0 318.8,493.8 294.6,496.2" fill="#dcbf8e" stroke="#dcbf8e" stroke-width="0.5" stroke-linejoin="round"/>
<polygon points="267.1,530.0 319.2,524.4 319.2,537.5 267.1,544.2" fill="#dcbf8e" stroke="#dcbf8e" stroke-width="0.7"/>
<path d="M290.5 527.5 Q299.6 531.1 308.8 525.5 Z" fill="#2f2a25"/>
<polygon points="267.1,545.2 319.2,538.3 319.2,551.5 267.1,558.8" fill="#dcbf8e" stroke="#dcbf8e" stroke-width="0.7"/>
<path d="M277.5 543.8 Q287.4 547.1 297.3 541.2 Z" fill="#2f2a25"/>
<polygon points="267.1,560.4 293.1,556.7 293.1,584.8 267.1,590.4" fill="#fbfbfb" stroke="#dcdcdc" stroke-width="0.5"/>
<path d="M269.7 560.0 Q279.5 562.3 289.2 557.2 Z" fill="#3a3632"/>
<polygon points="294.2,556.2 319.2,552.5 319.2,576.5 294.2,584.2" fill="#fbfbfb" stroke="#dcdcdc" stroke-width="0.5"/>
<path d="M295.4 556.1 Q304.2 558.4 312.9 553.4 Z" fill="#3a3632"/>
<polygon points="265.2,592.1 267.9,592.1 267.5,605.6 265.6,605.6" fill="url(#lg)" />
<polygon points="313.1,582.1 315.1,582.1 314.9,595.2 313.4,595.2" fill="url(#lg)" />
<polygon points="375.0,458.3 393.1,460.4 393.8,565.0 375.4,536.2" fill="#e2e2e2" stroke="#e2e2e2" stroke-width="0.5" stroke-linejoin="round"/>
<polygon points="375.0,458.3 396.2,456.2 414.0,458.3 393.1,460.4" fill="#fafafa" stroke="#dcdcdc" stroke-width="0.5" stroke-linejoin="round"/>
<polygon points="393.1,460.4 414.0,458.3 414.0,558.8 393.1,564.6" fill="#f5f5f5" stroke="#dcdcdc" stroke-width="0.5" stroke-linejoin="round"/>
<polygon points="394.6,460.8 412.9,459.2 412.9,481.7 394.6,483.1" fill="url(#ng)" />
<polygon points="394.6,460.8 397.3,460.6 397.3,482.1 394.6,483.1" fill="#ffffff" stroke="#ffffff" stroke-width="0.5" stroke-linejoin="round"/>
<polygon points="394.6,486.9 412.9,484.8 412.9,507.1 394.6,509.8" fill="url(#ng)" />
<polygon points="394.6,486.9 397.3,486.6 397.3,508.6 394.6,509.8" fill="#ffffff" stroke="#ffffff" stroke-width="0.5" stroke-linejoin="round"/>
<polygon points="394.6,482.7 412.9,481.2 412.9,484.2 394.6,486.2" fill="#dcbf8e" stroke="#dcbf8e" stroke-width="0.5" stroke-linejoin="round"/>
<polygon points="394.6,512.5 412.9,509.8 412.9,522.3 394.6,525.4" fill="#dcbf8e" stroke="#dcbf8e" stroke-width="0.7"/>
<path d="M397.3 512.1 Q404.2 515.2 411.1 510.1 Z" fill="#2f2a25"/>
<polygon points="394.6,525.8 412.9,522.9 412.9,535.4 394.6,538.3" fill="#dcbf8e" stroke="#dcbf8e" stroke-width="0.7"/>
<path d="M397.3 525.4 Q404.2 528.4 411.1 523.2 Z" fill="#2f2a25"/>
<polygon points="394.6,539.6 412.9,536.7 412.9,557.7 394.6,562.9" fill="#fcfcfc" stroke="#dcdcdc" stroke-width="0.5"/>
<path d="M397.3 539.1 Q404.2 541.7 411.1 537.0 Z" fill="#3a3632"/>
<polygon points="391.9,565.0 393.9,565.0 393.7,577.5 392.2,577.5" fill="url(#lg)" />
<polygon points="407.9,560.8 410.1,560.8 409.8,573.3 408.3,573.3" fill="url(#lg)" />
<polygon points="320.2,544.2 321.7,548.3 321.7,580.0 320.8,579.2" fill="#e4e4e4" stroke="#e4e4e4" stroke-width="0.5" stroke-linejoin="round"/>
<polygon points="320.8,544.2 373.3,535.4 390.4,539.6 321.7,548.3" fill="#fbfbfb" stroke="#fbfbfb" stroke-width="0.5" stroke-linejoin="round"/>
<polygon points="321.7,548.3 390.4,539.6 390.4,565.0 321.7,580.0" fill="#f1f1f1" stroke="#dcdcdc" stroke-width="0.5" stroke-linejoin="round"/>
<polygon points="322.5,550.0 345.2,547.1 345.2,574.4 322.5,579.2" fill="#fbfbfb" stroke="#dcdcdc" stroke-width="0.5"/>
<path d="M327.0 549.4 Q334.4 552.1 341.8 547.5 Z" fill="#3a3632"/>
<polygon points="346.7,546.7 389.6,540.4 389.6,553.5 346.7,560.4" fill="#dcbf8e" stroke="#dcbf8e" stroke-width="0.7"/>
<path d="M355.2 545.4 Q362.8 548.5 370.3 543.2 Z" fill="#2f2a25"/>
<polygon points="346.7,561.2 389.6,554.4 389.6,564.4 346.7,573.8" fill="#fbfbfb" stroke="#dcdcdc" stroke-width="0.5"/>
<path d="M366.0 558.2 Q373.5 560.6 381.0 555.8 Z" fill="#3a3632"/>
<polygon points="321.1,580.6 323.1,580.6 322.8,593.1 321.3,593.1" fill="url(#lg)" />
<polygon points="346.1,575.4 348.1,575.4 347.8,583.8 346.3,583.8" fill="url(#lg)" />
<polygon points="384.4,567.1 386.6,567.1 386.3,578.5 384.8,578.5" fill="url(#lg)" />
<polygon points="467.8,587.5 470.4,587.5 470.0,600.4 468.1,600.4" fill="url(#lg)" />
<polygon points="511.1,585.8 512.7,585.8 512.4,591.0 511.3,591.0" fill="url(#lgb)" />
<polygon points="517.8,584.2 519.3,584.2 519.1,589.6 518.0,589.6" fill="url(#lgb)" />
<polygon points="575.0,572.3 576.6,572.3 576.4,577.1 575.3,577.1" fill="url(#lgb)" />
<polygon points="581.9,570.8 583.5,570.8 583.3,575.4 582.1,575.4" fill="url(#lgb)" />
<polygon points="596.9,568.1 598.1,568.1 597.9,572.3 597.1,572.3" fill="url(#lgb)" />
<polygon points="464.4,464.6 479.6,467.1 480.0,591.0 465.4,585.8" fill="#f3f3f3" stroke="#f3f3f3" stroke-width="0.5" stroke-linejoin="round"/>
<polygon points="464.4,464.6 505.0,461.2 527.9,464.0 479.6,467.1" fill="#fafafa" stroke="#dcdcdc" stroke-width="0.5" stroke-linejoin="round"/>
<polygon points="479.6,467.1 527.9,464.0 527.9,577.5 480.0,591.0" fill="#f6f6f6" stroke="#dcdcdc" stroke-width="0.5" stroke-linejoin="round"/>
<polygon points="481.0,467.5 526.9,465.0 526.9,542.1 481.0,548.3" fill="url(#gi)" />
<polygon points="503.3,466.2 504.2,466.2 504.2,545.2 503.3,545.4" fill="#f2f2f2" stroke="#f2f2f2" stroke-width="0.5" stroke-linejoin="round"/>
<polygon points="481.0,490.0 525.8,487.5 525.8,491.0 481.0,494.6" fill="#dcbf8e" stroke="#dcbf8e" stroke-width="0.5" stroke-linejoin="round"/>
<polygon points="481.0,516.7 525.8,513.3 525.8,517.5 481.0,521.7" fill="#dcbf8e" stroke="#dcbf8e" stroke-width="0.5" stroke-linejoin="round"/>
<polygon points="480.4,550.4 527.5,543.8 527.5,555.6 480.4,562.9" fill="#dcbf8e" stroke="#dcbf8e" stroke-width="0.7"/>
<path d="M492.2 548.8 Q499.2 551.9 506.3 546.8 Z" fill="#2f2a25"/>
<polygon points="480.4,564.6 504.0,560.8 504.0,584.8 480.4,590.0" fill="#fcfcfc" stroke="#dcdcdc" stroke-width="0.5"/>
<path d="M482.8 564.2 Q492.2 566.4 501.6 561.2 Z" fill="#3a3632"/>
<polygon points="505.0,560.4 527.5,557.1 527.5,577.1 505.0,584.2" fill="#fcfcfc" stroke="#dcdcdc" stroke-width="0.5"/>
<path d="M506.1 560.2 Q514.6 562.7 523.0 557.8 Z" fill="#3a3632"/>
<polygon points="479.2,591.7 481.9,591.7 481.5,604.6 479.6,604.6" fill="url(#lg)" />
<polygon points="522.0,583.8 524.0,583.8 523.7,595.2 522.2,595.2" fill="url(#lg)" />
<polygon points="578.3,458.8 595.0,460.4 595.0,567.5 579.0,530.0" fill="#dcdcdc" stroke="#dcdcdc" stroke-width="0.5" stroke-linejoin="round"/>
<polygon points="578.3,458.8 598.8,457.1 613.8,458.8 595.0,460.4" fill="#fafafa" stroke="#dcdcdc" stroke-width="0.5" stroke-linejoin="round"/>
<polygon points="595.0,460.4 613.8,458.8 613.8,562.9 595.0,567.5" fill="#f5f5f5" stroke="#dcdcdc" stroke-width="0.5" stroke-linejoin="round"/>
<polygon points="596.7,460.8 612.9,459.8 612.9,528.5 596.7,530.6" fill="url(#gi2)" />
<polygon points="596.7,480.6 611.2,479.6 611.2,482.7 596.7,484.2" fill="#dcbf8e" stroke="#dcbf8e" stroke-width="0.5" stroke-linejoin="round"/>
<polygon points="596.7,503.5 611.2,502.1 611.2,505.6 596.7,507.7" fill="#dcbf8e" stroke="#dcbf8e" stroke-width="0.5" stroke-linejoin="round"/>
<polygon points="596.7,532.7 612.9,530.6 612.9,541.0 596.7,543.1" fill="#dcbf8e" stroke="#dcbf8e" stroke-width="0.7"/>
<path d="M599.1 532.4 Q605.2 535.8 611.3 530.8 Z" fill="#2f2a25"/>
<polygon points="596.7,544.2 612.9,542.1 612.9,561.9 596.7,566.0" fill="#fcfcfc" stroke="#dcdcdc" stroke-width="0.5"/>
<path d="M599.1 543.9 Q605.2 546.8 611.3 542.3 Z" fill="#3a3632"/>
<polygon points="593.8,567.5 596.0,567.5 595.7,579.2 594.1,579.2" fill="url(#lg)" />
<polygon points="608.4,564.0 610.4,564.0 610.1,575.4 608.6,575.4" fill="url(#lg)" />
<polygon points="527.9,536.9 530.0,541.0 530.0,581.7 528.5,580.0" fill="#e4e4e4" stroke="#e4e4e4" stroke-width="0.5" stroke-linejoin="round"/>
<polygon points="528.3,536.9 577.9,529.2 592.9,531.7 530.0,541.0" fill="#fbfbfb" stroke="#fbfbfb" stroke-width="0.5" stroke-linejoin="round"/>
<polygon points="530.0,541.0 592.9,531.7 592.9,567.1 530.0,581.7" fill="#f1f1f1" stroke="#dcdcdc" stroke-width="0.5" stroke-linejoin="round"/>
<polygon points="530.8,542.5 551.2,539.6 551.2,576.5 530.8,580.8" fill="#fbfbfb" stroke="#dcdcdc" stroke-width="0.5"/>
<path d="M534.9 541.9 Q541.6 544.6 548.2 540.0 Z" fill="#3a3632"/>
<polygon points="552.5,538.3 591.5,533.3 591.5,544.2 552.5,550.0" fill="#dcbf8e" stroke="#dcbf8e" stroke-width="0.7"/>
<path d="M560.3 537.3 Q567.1 540.6 573.9 535.6 Z" fill="#2f2a25"/>
<polygon points="552.5,551.2 572.7,547.9 572.7,571.2 552.5,575.8" fill="#fbfbfb" stroke="#dcdcdc" stroke-width="0.5"/>
<path d="M555.5 550.8 Q563.1 553.2 570.7 548.2 Z" fill="#3a3632"/>
<polygon points="574.2,547.7 591.5,545.2 591.5,566.7 574.2,570.8" fill="#fbfbfb" stroke="#dcdcdc" stroke-width="0.5"/>
<path d="M575.9 547.5 Q582.4 550.2 588.9 545.6 Z" fill="#3a3632"/>
<polygon points="529.9,582.1 531.9,582.1 531.6,593.8 530.1,593.8" fill="url(#lg)" />
<polygon points="551.5,577.1 553.8,577.1 553.4,584.2 551.9,584.2" fill="url(#lg)" />
<polygon points="587.0,569.2 589.1,569.2 588.8,580.0 587.3,580.0" fill="url(#lg)" />
<polygon points="668.6,588.3 670.6,588.3 670.3,600.8 668.9,600.8" fill="url(#lg)" />
<polygon points="687.8,591.0 689.3,591.0 689.1,597.3 688.0,597.3" fill="url(#lgb)" />
<polygon points="754.8,577.5 756.4,577.5 756.2,583.3 755.1,583.3" fill="url(#lgb)" />
<polygon points="761.7,576.5 763.3,576.5 763.1,581.2 761.9,581.2" fill="url(#lgb)" />
<polygon points="776.9,575.0 778.1,575.0 777.9,578.5 777.1,578.5" fill="url(#lgb)" />
<polygon points="664.6,465.4 680.2,468.1 680.8,592.1 665.6,586.9" fill="#f2f2f2" stroke="#f2f2f2" stroke-width="0.5" stroke-linejoin="round"/>
<polygon points="664.6,465.4 688.5,463.3 705.2,466.0 680.2,468.1" fill="#fafafa" stroke="#dcdcdc" stroke-width="0.5" stroke-linejoin="round"/>
<polygon points="680.2,468.1 705.2,466.0 705.2,583.8 680.8,592.1" fill="#f6f6f6" stroke="#dcdcdc" stroke-width="0.5" stroke-linejoin="round"/>
<polygon points="681.7,468.8 704.2,467.1 704.2,546.2 681.7,550.4" fill="url(#gi2)" />
<polygon points="681.7,491.0 703.1,489.6 703.1,493.8 681.7,495.8" fill="#dcbf8e" stroke="#dcbf8e" stroke-width="0.5" stroke-linejoin="round"/>
<polygon points="681.7,518.1 703.1,516.0 703.1,520.8 681.7,523.3" fill="#dcbf8e" stroke="#dcbf8e" stroke-width="0.5" stroke-linejoin="round"/>
<polygon points="681.2,552.9 704.6,548.8 704.6,560.4 681.2,565.0" fill="#dcbf8e" stroke="#dcbf8e" stroke-width="0.7"/>
<path d="M684.8 552.3 Q693.5 554.9 702.2 549.2 Z" fill="#2f2a25"/>
<polygon points="681.2,566.2 704.6,561.7 704.6,583.3 681.2,591.0" fill="#fcfcfc" stroke="#dcdcdc" stroke-width="0.5"/>
<path d="M684.8 565.6 Q693.5 567.5 702.2 562.1 Z" fill="#3a3632"/>
<polygon points="679.9,592.5 682.0,592.5 681.7,605.6 680.2,605.6" fill="url(#lg)" />
<polygon points="699.2,588.3 701.5,588.3 701.1,601.5 699.6,601.5" fill="url(#lg)" />
<polygon points="757.9,460.4 774.6,462.5 775.0,575.0 758.3,545.6" fill="#d8d8d8" stroke="#d8d8d8" stroke-width="0.5" stroke-linejoin="round"/>
<polygon points="757.9,460.4 778.1,458.8 794.2,460.8 774.6,462.5" fill="#fafafa" stroke="#dcdcdc" stroke-width="0.5" stroke-linejoin="round"/>
<polygon points="774.6,462.5 794.2,460.8 794.2,570.2 774.6,575.0" fill="#f5f5f5" stroke="#dcdcdc" stroke-width="0.5" stroke-linejoin="round"/>
<polygon points="776.0,462.9 793.3,461.9 793.3,532.7 776.0,534.8" fill="url(#gi2)" />
<polygon points="776.0,483.3 791.7,482.1 791.7,486.2 776.0,487.5" fill="#dcbf8e" stroke="#dcbf8e" stroke-width="0.5" stroke-linejoin="round"/>
<polygon points="776.0,507.1 791.7,505.6 791.7,510.4 776.0,511.9" fill="#dcbf8e" stroke="#dcbf8e" stroke-width="0.5" stroke-linejoin="round"/>
<polygon points="776.0,536.9 793.3,534.2 793.3,545.8 776.0,548.3" fill="#dcbf8e" stroke="#dcbf8e" stroke-width="0.7"/>
<path d="M778.6 536.5 Q785.1 539.6 791.6 534.4 Z" fill="#2f2a25"/>
<polygon points="776.0,549.6 793.3,546.9 793.3,569.2 776.0,573.8" fill="#fcfcfc" stroke="#dcdcdc" stroke-width="0.5"/>
<path d="M778.6 549.2 Q785.1 551.8 791.6 547.1 Z" fill="#3a3632"/>
<polygon points="773.5,575.4 775.5,575.4 775.3,585.4 773.8,585.4" fill="url(#lg)" />
<polygon points="788.8,570.8 790.8,570.8 790.5,582.1 789.0,582.1" fill="url(#lg)" />
<polygon points="706.2,553.5 707.9,557.7 707.9,586.9 706.9,585.8" fill="#e4e4e4" stroke="#e4e4e4" stroke-width="0.5" stroke-linejoin="round"/>
<polygon points="706.7,553.5 754.2,545.8 771.9,548.8 707.9,557.7" fill="#fbfbfb" stroke="#fbfbfb" stroke-width="0.5" stroke-linejoin="round"/>
<polygon points="707.9,557.7 771.9,548.8 771.9,573.3 707.9,586.9" fill="#f1f1f1" stroke="#dcdcdc" stroke-width="0.5" stroke-linejoin="round"/>
<polygon points="708.8,559.2 729.8,556.2 729.8,581.7 708.8,586.2" fill="#fbfbfb" stroke="#dcdcdc" stroke-width="0.5"/>
<path d="M713.0 558.6 Q719.8 561.3 726.6 556.7 Z" fill="#3a3632"/>
<polygon points="731.2,555.6 771.2,550.0 771.2,562.5 731.2,568.8" fill="#dcbf8e" stroke="#dcbf8e" stroke-width="0.7"/>
<path d="M739.2 554.5 Q746.2 557.7 753.2 552.5 Z" fill="#2f2a25"/>
<polygon points="731.2,569.8 771.2,563.3 771.2,572.7 731.2,581.7" fill="#fbfbfb" stroke="#dcdcdc" stroke-width="0.5"/>
<path d="M749.2 566.9 Q756.2 569.4 763.2 564.6 Z" fill="#3a3632"/>
<polygon points="707.0,587.5 709.1,587.5 708.8,599.4 707.3,599.4" fill="url(#lg)" />
<polygon points="730.5,583.3 732.5,583.3 732.2,590.4 730.7,590.4" fill="url(#lg)" />
<polygon points="766.5,575.0 768.5,575.0 768.3,585.8 766.8,585.8" fill="url(#lg)" />
<polygon points="137.7,708.5 149.3,711.9 149.7,726.9 140.0,723.1" fill="#57564e" stroke="#57564e" stroke-width="0.5" stroke-linejoin="round"/>
<polygon points="137.7,708.5 155.0,704.4 167.1,709.1 149.3,711.9" fill="#6f6d65" stroke="#6f6d65" stroke-width="0.5" stroke-linejoin="round"/>
<polygon points="149.3,711.9 167.1,709.1 167.1,727.2 149.7,729.1" fill="#8f8a76" stroke="#8f8a76" stroke-width="0.5" stroke-linejoin="round"/>
<polygon points="149.9,713.0 166.6,710.2 166.6,718.4 149.9,720.7" fill="#d2bc98" stroke="#d2bc98" stroke-width="0.7"/>
<path d="M152.4 712.6 Q158.2 715.1 164.1 710.6 Z" fill="#4b463c"/>
<polygon points="149.9,721.4 166.6,719.2 166.6,726.9 149.9,729.1" fill="#62615a" stroke="#62615a" stroke-width="0.7"/>
<path d="M152.4 721.1 Q158.2 723.8 164.1 719.5 Z" fill="#3a3833"/>
<polygon points="118.4,778.2 122.1,778.2 121.1,789.6 119.2,789.6" fill="#cdb58a" stroke="#cdb58a" stroke-width="0.5" stroke-linejoin="round"/>
<polygon points="190.4,761.8 193.9,760.9 195.7,771.1 193.8,771.4" fill="#cdb58a" stroke="#cdb58a" stroke-width="0.5" stroke-linejoin="round"/>
<polygon points="65.8,747.5 68.4,749.1 66.3,753.8 64.6,753.4" fill="#cdb58a" stroke="#cdb58a" stroke-width="0.5" stroke-linejoin="round"/>
<path d="M62.2 737.9L79.7 746.2L76.0 757.5L94.4 775.0L100.7 778.7L106.3 766.6L121.1 772.3L201.9 753.2Q205.6 754.5 205.9 757.5Q205.6 760.5 202.7 761.5L121.8 780.0Q118.3 780.3 115.1 779.0L62.8 744.3Q61.5 740.8 62.2 737.9Z" fill="#4c4647" />
<path d="M107.1 771.1L121.1 776.2L205.1 756.4L204.6 759.9L121.8 779.7L108.7 774.6Z" fill="#2f2a2b" opacity="0.35"/>
<path d="M53.7 720.8L55.0 705.7Q55.8 700.6 60.9 699.6L124.0 690.7Q130.1 690.4 131.3 695.5L135.1 711.3L102.3 716.8L63.3 726.7L56.1 726.7Z" fill="#4c4647" />
<circle cx="68.9" cy="711.7" r="0.9" fill="#2f2a2b" opacity="0.6"/>
<circle cx="85.6" cy="708.9" r="0.9" fill="#2f2a2b" opacity="0.6"/>
<circle cx="104.2" cy="706.0" r="0.9" fill="#2f2a2b" opacity="0.6"/>
<circle cx="119.9" cy="703.5" r="0.9" fill="#2f2a2b" opacity="0.6"/>
<polygon points="62.8,726.7 80.0,733.8 80.0,746.3 62.8,739.2" fill="#8d8d8d" stroke="#8d8d8d" stroke-width="0.5" stroke-linejoin="round"/>
<polygon points="62.8,726.7 80.0,733.8 79.7,736.3 62.8,730.6" fill="#d9dcdf" stroke="#d9dcdf" stroke-width="0.5" stroke-linejoin="round"/>
<path d="M63.0 727.1Q62.8 725.1 65.0 724.2Q76.8 718.1 87.7 715.9Q95.9 714.3 100.7 715.3Q110.3 720.0 114.8 724.5Q97.5 730.2 80.3 734.4Q78.7 734.7 77.5 733.4Z" fill="#e3e6ea" />
<path d="M102.3 715.3Q113.5 711.4 123.4 710.3Q129.4 709.8 132.6 711.4Q142.2 716.5 147.6 720.8Q134.2 723.2 116.7 726.1Q114.4 723.9 102.3 715.3Z" fill="#eaecef" />
<path d="M80.3 734.4Q97.5 730.2 114.8 724.5L114.4 723.2Q97.5 728.3 79.2 732.8Z" fill="#c9cdd1" />
<polygon points="80.0,735.3 116.7,726.7 150.8,721.3 195.1,739.7 127.8,751.9 115.1,759.6 108.7,771.1 100.7,779.0 94.4,775.2 83.2,765.0 76.2,757.7" fill="#adadab" stroke="#adadab" stroke-width="0.5" stroke-linejoin="round"/>
<polygon points="80.0,735.3 116.7,726.7 150.8,721.3 159.7,724.8 119.9,731.5 81.9,741.1" fill="#9b9b99" stroke="#9b9b99" stroke-width="0.5" stroke-linejoin="round"/>
<polygon points="111.9,748.7 186.0,735.3 190.3,737.4 115.1,751.9" fill="#8e8e8c" stroke="#8e8e8c" stroke-width="0.5" stroke-linejoin="round"/>
<polygon points="76.2,757.7 83.2,765.0 94.4,775.2 100.7,779.0 101.0,774.3 91.2,767.9 82.6,759.9" fill="#a1a19f" stroke="#a1a19f" stroke-width="0.5" stroke-linejoin="round"/>
<polygon points="127.8,751.9 195.1,739.7 200.3,745.2 202.4,753.5 121.0,772.7 106.3,766.6 115.1,759.6" fill="#e4e7ea" stroke="#e4e7ea" stroke-width="0.5" stroke-linejoin="round"/>
<polygon points="121.0,772.7 202.4,753.5 202.1,751.1 119.9,770.3 107.4,765.5 106.3,766.6" fill="#cfd2d5" stroke="#cfd2d5" stroke-width="0.5" stroke-linejoin="round"/>
<polygon points="115.1,759.6 108.7,771.1 100.7,779.0 104.7,773.5 108.4,765.5" fill="#bdbdbb" stroke="#bdbdbb" stroke-width="0.5" stroke-linejoin="round"/>
<polygon points="31.6,749.4 33.5,749.4 33.3,758.7 31.8,758.7" fill="#8a7f68" stroke="#8a7f68" stroke-width="0.5" stroke-linejoin="round"/>
<polygon points="49.6,750.5 51.0,750.5 50.8,755.0 49.8,755.0" fill="#8a7f68" stroke="#8a7f68" stroke-width="0.5" stroke-linejoin="round"/>
<polygon points="29.0,724.6 37.8,728.4 38.4,752.2 29.4,748.4" fill="#57564e" stroke="#57564e" stroke-width="0.5" stroke-linejoin="round"/>
<polygon points="29.0,724.6 50.9,721.2 61.2,726.5 37.8,728.4" fill="#6f6d65" stroke="#6f6d65" stroke-width="0.5" stroke-linejoin="round"/>
<polygon points="37.8,728.4 61.2,726.5 61.2,748.4 38.4,752.2" fill="#8f8a76" stroke="#8f8a76" stroke-width="0.5" stroke-linejoin="round"/>
<polygon points="38.6,729.9 60.9,727.2 60.9,737.2 38.6,740.5" fill="#d2bc98" stroke="#d2bc98" stroke-width="0.7"/>
<path d="M41.9 729.5 Q49.7 732.1 57.5 727.6 Z" fill="#4b463c"/>
<polygon points="38.6,741.5 60.9,738.1 60.9,747.7 38.6,751.4" fill="#62615a" stroke="#62615a" stroke-width="0.7"/>
<path d="M41.9 741.0 Q49.7 743.3 57.5 738.6 Z" fill="#3a3833"/>
<polygon points="38.4,752.7 40.4,752.7 40.2,762.5 38.6,762.5" fill="#ab9d7d" stroke="#ab9d7d" stroke-width="0.5" stroke-linejoin="round"/>
<polygon points="56.0,749.0 57.9,749.0 57.7,758.7 56.2,758.7" fill="#ab9d7d" stroke="#ab9d7d" stroke-width="0.5" stroke-linejoin="round"/>
<polygon points="382.7,709.9 393.9,713.0 393.9,729.5 383.1,724.3" fill="#57564e" stroke="#57564e" stroke-width="0.5" stroke-linejoin="round"/>
<polygon points="382.7,709.9 401.7,705.8 411.0,709.3 393.9,713.0" fill="#6f6d65" stroke="#6f6d65" stroke-width="0.5" stroke-linejoin="round"/>
<polygon points="393.9,713.0 411.0,709.3 411.0,728.9 393.9,731.5" fill="#8f8a76" stroke="#8f8a76" stroke-width="0.5" stroke-linejoin="round"/>
<polygon points="394.5,713.8 410.4,710.7 410.4,719.2 394.5,721.6" fill="#d2bc98" stroke="#d2bc98" stroke-width="0.7"/>
<path d="M396.9 713.4 Q402.4 715.8 408.0 711.2 Z" fill="#4b463c"/>
<polygon points="394.5,722.5 410.4,720.0 410.4,728.5 394.5,731.1" fill="#62615a" stroke="#62615a" stroke-width="0.7"/>
<path d="M396.9 722.1 Q402.4 724.8 408.0 720.4 Z" fill="#3a3833"/>
<polygon points="364.2,777.4 367.7,777.4 366.8,788.4 364.9,788.4" fill="#cdb58a" stroke="#cdb58a" stroke-width="0.5" stroke-linejoin="round"/>
<polygon points="433.4,761.5 436.7,760.5 438.4,770.4 436.6,770.7" fill="#cdb58a" stroke="#cdb58a" stroke-width="0.5" stroke-linejoin="round"/>
<polygon points="313.7,747.5 316.1,749.1 314.1,753.7 312.4,753.3" fill="#cdb58a" stroke="#cdb58a" stroke-width="0.5" stroke-linejoin="round"/>
<path d="M310.2 738.3L327.0 746.3L323.5 757.3L341.1 774.3L347.2 777.8L352.5 766.1L366.8 771.7L444.4 753.1Q447.9 754.3 448.2 757.3Q447.9 760.2 445.1 761.1L367.4 779.1Q364.0 779.4 361.0 778.2L310.8 744.4Q309.5 741.0 310.2 738.3Z" fill="#9cb157" />
<path d="M353.3 770.4L366.8 775.4L447.4 756.2L447.0 759.6L367.4 778.8L354.8 773.8Z" fill="#84983f" opacity="0.35"/>
<path d="M302.0 721.7L303.3 707.0Q304.0 702.1 308.9 701.2L369.5 692.5Q375.4 692.2 376.6 697.1L380.2 712.4L348.7 717.9L311.2 727.4L304.3 727.4Z" fill="#9cb157" />
<circle cx="316.6" cy="712.9" r="0.9" fill="#84983f" opacity="0.6"/>
<circle cx="332.7" cy="710.1" r="0.9" fill="#84983f" opacity="0.6"/>
<circle cx="350.6" cy="707.3" r="0.9" fill="#84983f" opacity="0.6"/>
<circle cx="365.6" cy="704.9" r="0.9" fill="#84983f" opacity="0.6"/>
<polygon points="310.8,727.4 327.3,734.2 327.3,746.5 310.8,739.5" fill="#8d8d8d" stroke="#8d8d8d" stroke-width="0.5" stroke-linejoin="round"/>
<polygon points="310.8,727.4 327.3,734.2 327.0,736.7 310.8,731.2" fill="#d9dcdf" stroke="#d9dcdf" stroke-width="0.5" stroke-linejoin="round"/>
<path d="M310.9 727.7Q310.8 725.9 312.9 725.0Q324.2 719.1 334.6 716.9Q342.6 715.4 347.2 716.3Q356.4 720.9 360.7 725.3Q344.1 730.8 327.6 734.9Q326.1 735.2 324.8 733.9Z" fill="#e3e6ea" />
<path d="M348.7 716.3Q359.4 712.6 368.9 711.5Q374.7 711.1 377.8 712.6Q387.0 717.5 392.2 721.7Q379.3 724.0 362.5 726.8Q360.4 724.7 348.7 716.3Z" fill="#eaecef" />
<path d="M327.6 734.9Q344.1 730.8 360.7 725.3L360.4 724.0Q344.1 729.0 326.5 733.3Z" fill="#c9cdd1" />
<polygon points="327.3,735.8 362.5,727.4 395.2,722.2 437.8,740.0 373.2,751.9 361.0,759.3 354.8,770.4 347.2,778.2 341.1,774.4 330.4,764.5 323.6,757.4" fill="#adadab" stroke="#adadab" stroke-width="0.5" stroke-linejoin="round"/>
<polygon points="327.3,735.8 362.5,727.4 395.2,722.2 403.8,725.6 365.6,732.1 329.1,741.4" fill="#9b9b99" stroke="#9b9b99" stroke-width="0.5" stroke-linejoin="round"/>
<polygon points="357.9,748.8 429.1,735.8 433.2,737.8 361.0,751.9" fill="#8e8e8c" stroke="#8e8e8c" stroke-width="0.5" stroke-linejoin="round"/>
<polygon points="323.6,757.4 330.4,764.5 341.1,774.4 347.2,778.2 347.5,773.5 338.0,767.3 329.7,759.6" fill="#a1a19f" stroke="#a1a19f" stroke-width="0.5" stroke-linejoin="round"/>
<polygon points="373.2,751.9 437.8,740.0 442.8,745.4 444.8,753.4 366.6,772.0 352.5,766.1 361.0,759.3" fill="#e4e7ea" stroke="#e4e7ea" stroke-width="0.5" stroke-linejoin="round"/>
<polygon points="366.6,772.0 444.8,753.4 444.5,751.1 365.6,769.6 353.6,765.0 352.5,766.1" fill="#cfd2d5" stroke="#cfd2d5" stroke-width="0.5" stroke-linejoin="round"/>
<polygon points="361.0,759.3 354.8,770.4 347.2,778.2 351.0,772.7 354.5,765.0" fill="#bdbdbb" stroke="#bdbdbb" stroke-width="0.5" stroke-linejoin="round"/>
<polygon points="257.8,752.2 259.9,752.2 259.6,761.4 258.0,761.4" fill="#8a7f68" stroke="#8a7f68" stroke-width="0.5" stroke-linejoin="round"/>
<polygon points="297.4,751.0 299.1,751.0 298.8,755.5 297.7,755.5" fill="#8a7f68" stroke="#8a7f68" stroke-width="0.5" stroke-linejoin="round"/>
<polygon points="255.3,718.1 263.1,720.8 263.6,755.9 255.7,752.2" fill="#57564e" stroke="#57564e" stroke-width="0.5" stroke-linejoin="round"/>
<polygon points="255.3,718.1 294.5,712.0 308.5,716.7 263.1,720.8" fill="#6f6d65" stroke="#6f6d65" stroke-width="0.5" stroke-linejoin="round"/>
<polygon points="263.1,720.8 308.5,716.7 307.9,749.5 263.6,755.9" fill="#8f8a76" stroke="#8f8a76" stroke-width="0.5" stroke-linejoin="round"/>
<polygon points="264.0,722.5 286.2,720.0 286.2,729.5 264.0,732.4" fill="#d2bc98" stroke="#d2bc98" stroke-width="0.7"/>
<path d="M267.3 722.1 Q275.1 724.8 282.9 720.4 Z" fill="#4b463c"/>
<polygon points="287.3,719.8 307.7,717.9 307.7,727.0 287.3,729.5" fill="#d2bc98" stroke="#d2bc98" stroke-width="0.7"/>
<path d="M290.3 719.5 Q297.5 722.4 304.6 718.2 Z" fill="#4b463c"/>
<polygon points="264.0,733.2 307.7,727.8 307.7,737.5 264.0,743.7" fill="#62615a" stroke="#62615a" stroke-width="0.7"/>
<path d="M277.1 731.6 Q283.6 734.3 290.2 730.0 Z" fill="#3a3833"/>
<polygon points="264.0,744.5 307.7,738.4 307.7,748.7 264.0,755.1" fill="#62615a" stroke="#62615a" stroke-width="0.7"/>
<path d="M283.6 741.8 Q290.2 744.3 296.8 739.9 Z" fill="#3a3833"/>
<polygon points="263.6,756.5 265.9,756.5 265.5,767.0 263.9,767.0" fill="#ab9d7d" stroke="#ab9d7d" stroke-width="0.5" stroke-linejoin="round"/>
<polygon points="303.8,750.0 305.9,750.0 305.6,759.8 304.0,759.8" fill="#ab9d7d" stroke="#ab9d7d" stroke-width="0.5" stroke-linejoin="round"/>
<polygon points="603.8,710.2 613.3,714.1 613.9,731.3 604.7,724.8" fill="#57564e" stroke="#57564e" stroke-width="0.5" stroke-linejoin="round"/>
<polygon points="603.8,710.2 621.5,706.5 631.8,710.2 613.3,714.1" fill="#6f6d65" stroke="#6f6d65" stroke-width="0.5" stroke-linejoin="round"/>
<polygon points="613.3,714.1 631.8,710.2 631.2,729.6 613.9,732.4" fill="#8f8a76" stroke="#8f8a76" stroke-width="0.5" stroke-linejoin="round"/>
<polygon points="613.9,714.7 631.2,711.7 631.2,718.8 613.9,721.6" fill="#d2bc98" stroke="#d2bc98" stroke-width="0.7"/>
<path d="M616.5 714.3 Q622.6 716.7 628.6 712.2 Z" fill="#4b463c"/>
<polygon points="613.9,722.5 631.2,719.7 631.2,729.2 613.9,731.7" fill="#62615a" stroke="#62615a" stroke-width="0.7"/>
<path d="M616.5 722.1 Q622.6 724.6 628.6 720.1 Z" fill="#3a3833"/>
<polygon points="640.9,721.6 643.0,721.6 642.7,730.2 641.2,730.2" fill="#8a7f68" stroke="#8a7f68" stroke-width="0.5" stroke-linejoin="round"/>
<polygon points="651.5,724.0 653.0,724.0 652.8,729.0 651.7,729.0" fill="#8a7f68" stroke="#8a7f68" stroke-width="0.5" stroke-linejoin="round"/>
<polygon points="639.2,642.5 653.8,640.3 677.5,644.7 662.5,646.8" fill="#87857b" stroke="#87857b" stroke-width="0.5" stroke-linejoin="round"/>
<polygon points="662.5,646.8 677.5,644.7 677.5,724.8 662.5,727.4" fill="#77756b" stroke="#77756b" stroke-width="0.5" stroke-linejoin="round"/>
<polygon points="639.2,642.5 662.5,646.8 662.5,727.4 639.8,721.0" fill="#8f8a76" stroke="#8f8a76" stroke-width="0.5" stroke-linejoin="round"/>
<polygon points="640.2,643.6 650.6,645.5 650.6,716.7 640.7,713.6" fill="#605f56" stroke="#605f56" stroke-width="0.5" stroke-linejoin="round"/>
<polygon points="651.5,645.7 661.8,647.7 661.8,720.1 651.5,716.9" fill="#5f5d54" stroke="#5f5d54" stroke-width="0.5" stroke-linejoin="round"/>
<polygon points="640.2,713.6 661.8,720.5 661.8,726.8 640.2,720.5" fill="#cdb58e" stroke="#cdb58e" stroke-width="0.7"/>
<path d="M646.7 715.7 Q651.0 720.2 655.3 718.5 Z" fill="#4b463c"/>
<path d="M651.0 673.1 L651.0 683.9" stroke="#2a2925" stroke-width="0.8"/>
<polygon points="662.5,728.1 664.6,728.1 664.3,739.9 662.8,739.9" fill="#ab9d7d" stroke="#ab9d7d" stroke-width="0.5" stroke-linejoin="round"/>
<polygon points="679.5,736.5 680.8,736.5 680.7,741.0 679.6,741.0" fill="#8a7f68" stroke="#8a7f68" stroke-width="0.5" stroke-linejoin="round"/>
<polygon points="665.0,704.4 679.7,702.2 708.8,710.8 693.7,713.6" fill="#787668" stroke="#787668" stroke-width="0.5" stroke-linejoin="round"/>
<polygon points="693.7,713.6 708.8,710.8 708.2,742.1 693.7,747.5" fill="#74726a" stroke="#74726a" stroke-width="0.5" stroke-linejoin="round"/>
<polygon points="665.0,704.4 693.7,713.6 693.7,747.5 665.7,735.6" fill="#8f8a76" stroke="#8f8a76" stroke-width="0.5" stroke-linejoin="round"/>
<polygon points="665.9,706.1 678.8,710.2 678.8,717.1 665.9,713.2" fill="#d2bc98" stroke="#d2bc98" stroke-width="0.7"/>
<path d="M667.8 706.7 Q672.0 711.1 676.2 709.4 Z" fill="#4b463c"/>
<polygon points="679.9,710.6 693.1,714.9 693.1,722.5 679.9,717.5" fill="#d2bc98" stroke="#d2bc98" stroke-width="0.7"/>
<path d="M681.9 711.3 Q686.2 715.7 690.4 714.1 Z" fill="#4b463c"/>
<polygon points="665.9,714.1 693.1,723.3 693.1,734.1 665.9,723.8" fill="#5e5d54" stroke="#5e5d54" stroke-width="0.7"/>
<path d="M671.3 715.9 Q675.4 720.4 679.5 718.7 Z" fill="#3a3833"/>
<polygon points="665.9,724.6 693.1,735.0 693.1,746.4 665.9,735.0" fill="#5e5d54" stroke="#5e5d54" stroke-width="0.7"/>
<path d="M679.5 729.8 Q683.6 734.4 687.6 732.9 Z" fill="#3a3833"/>
<polygon points="667.2,736.0 669.3,736.0 669.0,742.0 667.5,742.0" fill="#ab9d7d" stroke="#ab9d7d" stroke-width="0.5" stroke-linejoin="round"/>
<polygon points="692.6,747.5 694.8,747.5 694.5,753.3 692.9,753.3" fill="#ab9d7d" stroke="#ab9d7d" stroke-width="0.5" stroke-linejoin="round"/>
<polygon points="704.5,742.5 706.2,742.5 706.0,750.7 704.7,750.7" fill="#ab9d7d" stroke="#ab9d7d" stroke-width="0.5" stroke-linejoin="round"/>
<polygon points="582.0,777.7 585.4,777.7 584.5,788.7 582.7,788.7" fill="#cdb58a" stroke="#cdb58a" stroke-width="0.5" stroke-linejoin="round"/>
<polygon points="649.0,761.9 652.3,760.9 653.9,770.8 652.1,771.1" fill="#cdb58a" stroke="#cdb58a" stroke-width="0.5" stroke-linejoin="round"/>
<polygon points="533.0,748.0 535.4,749.5 533.5,754.2 531.8,753.7" fill="#cdb58a" stroke="#cdb58a" stroke-width="0.5" stroke-linejoin="round"/>
<path d="M529.6 738.8L545.9 746.8L542.5 757.7L559.6 774.6L565.5 778.2L570.7 766.5L584.5 772.0L659.7 753.6Q663.1 754.8 663.4 757.7Q663.1 760.6 660.4 761.6L585.1 779.4Q581.8 779.7 578.9 778.5L530.2 744.9Q529.0 741.5 529.6 738.8Z" fill="#a9acb0" />
<path d="M571.4 770.8L584.5 775.7L662.7 756.6L662.2 760.0L585.1 779.1L572.9 774.2Z" fill="#8f9296" opacity="0.35"/>
<path d="M521.7 722.3L523.0 707.7Q523.8 702.7 528.7 701.8L590.4 693.2Q596.3 692.9 597.6 697.8L601.3 713.1L569.2 718.4L531.1 728.0L524.1 728.0Z" fill="#a9acb0" />
<circle cx="536.5" cy="713.5" r="0.9" fill="#8f9296" opacity="0.6"/>
<circle cx="552.9" cy="710.8" r="0.9" fill="#8f9296" opacity="0.6"/>
<circle cx="571.1" cy="708.0" r="0.9" fill="#8f9296" opacity="0.6"/>
<circle cx="586.4" cy="705.5" r="0.9" fill="#8f9296" opacity="0.6"/>
<polygon points="530.2,728.0 546.2,734.8 546.2,746.9 530.2,740.0" fill="#8d8d8d" stroke="#8d8d8d" stroke-width="0.5" stroke-linejoin="round"/>
<polygon points="530.2,728.0 546.2,734.8 545.9,737.2 530.2,731.7" fill="#d9dcdf" stroke="#d9dcdf" stroke-width="0.5" stroke-linejoin="round"/>
<path d="M530.8 728.3Q530.6 726.5 532.8 725.5Q544.3 719.7 554.9 717.5Q563.0 716.0 567.7 716.9Q577.0 721.5 581.4 725.8Q564.6 731.4 547.7 735.4Q546.2 735.7 544.9 734.5Z" fill="#e3e6ea" />
<path d="M569.2 716.9Q580.1 713.2 589.8 712.1Q595.7 711.7 598.8 713.2Q608.2 718.1 613.5 722.3Q600.4 724.6 583.2 727.4Q581.1 725.2 569.2 716.9Z" fill="#eaecef" />
<path d="M547.7 735.4Q564.6 731.4 581.4 725.8L581.1 724.6Q564.6 729.5 546.7 733.8Z" fill="#c9cdd1" />
<polygon points="546.2,736.3 580.3,728.0 612.1,722.8 653.3,740.5 590.7,752.3 578.9,759.7 572.9,770.8 565.5,778.5 559.6,774.8 549.2,764.9 542.7,757.9" fill="#adadab" stroke="#adadab" stroke-width="0.5" stroke-linejoin="round"/>
<polygon points="546.2,736.3 580.3,728.0 612.1,722.8 620.4,726.1 583.3,732.6 548.0,741.9" fill="#9b9b99" stroke="#9b9b99" stroke-width="0.5" stroke-linejoin="round"/>
<polygon points="575.9,749.2 644.9,736.3 648.9,738.3 578.9,752.3" fill="#8e8e8c" stroke="#8e8e8c" stroke-width="0.5" stroke-linejoin="round"/>
<polygon points="542.7,757.9 549.2,764.9 559.6,774.8 565.5,778.5 565.8,773.9 556.6,767.7 548.6,760.0" fill="#a1a19f" stroke="#a1a19f" stroke-width="0.5" stroke-linejoin="round"/>
<polygon points="590.7,752.3 653.3,740.5 658.2,745.9 660.1,753.9 584.3,772.3 570.7,766.5 578.9,759.7" fill="#e4e7ea" stroke="#e4e7ea" stroke-width="0.5" stroke-linejoin="round"/>
<polygon points="584.3,772.3 660.1,753.9 659.8,751.6 583.3,770.0 571.7,765.4 570.7,766.5" fill="#cfd2d5" stroke="#cfd2d5" stroke-width="0.5" stroke-linejoin="round"/>
<polygon points="578.9,759.7 572.9,770.8 565.5,778.5 569.2,773.1 572.6,765.4" fill="#bdbdbb" stroke="#bdbdbb" stroke-width="0.5" stroke-linejoin="round"/>
<polygon points="500.8,749.0 502.9,749.0 502.6,757.2 501.1,757.2" fill="#8a7f68" stroke="#8a7f68" stroke-width="0.5" stroke-linejoin="round"/>
<polygon points="518.0,750.5 519.6,750.5 519.4,755.0 518.2,755.0" fill="#8a7f68" stroke="#8a7f68" stroke-width="0.5" stroke-linejoin="round"/>
<polygon points="498.2,725.9 505.5,729.6 506.2,751.8 499.1,748.1" fill="#57564e" stroke="#57564e" stroke-width="0.5" stroke-linejoin="round"/>
<polygon points="498.2,725.9 520.2,722.3 529.2,727.0 505.5,729.6" fill="#6f6d65" stroke="#6f6d65" stroke-width="0.5" stroke-linejoin="round"/>
<polygon points="505.5,729.6 529.2,727.0 528.8,748.1 506.2,751.8" fill="#8f8a76" stroke="#8f8a76" stroke-width="0.5" stroke-linejoin="round"/>
<polygon points="506.4,731.1 528.4,728.3 528.4,737.4 506.4,740.4" fill="#d2bc98" stroke="#d2bc98" stroke-width="0.7"/>
<path d="M509.7 730.7 Q517.4 733.2 525.1 728.7 Z" fill="#4b463c"/>
<polygon points="506.4,741.2 528.4,738.2 528.4,747.5 506.4,750.9" fill="#62615a" stroke="#62615a" stroke-width="0.7"/>
<path d="M509.7 740.8 Q517.4 743.2 525.1 738.7 Z" fill="#3a3833"/>
<polygon points="506.3,752.4 508.9,752.4 508.5,762.6 506.7,762.6" fill="#ab9d7d" stroke="#ab9d7d" stroke-width="0.5" stroke-linejoin="round"/>
<polygon points="523.4,749.0 525.6,749.0 525.3,758.9 523.7,758.9" fill="#ab9d7d" stroke="#ab9d7d" stroke-width="0.5" stroke-linejoin="round"/>
<polygon points="863.1,706.2 873.7,709.6 874.3,728.7 864.2,722.0" fill="#57564e" stroke="#57564e" stroke-width="0.5" stroke-linejoin="round"/>
<polygon points="863.1,706.2 881.1,702.2 892.3,706.2 873.7,709.6" fill="#6f6d65" stroke="#6f6d65" stroke-width="0.5" stroke-linejoin="round"/>
<polygon points="873.7,709.6 892.3,706.2 891.6,726.5 874.3,729.2" fill="#8f8a76" stroke="#8f8a76" stroke-width="0.5" stroke-linejoin="round"/>
<polygon points="874.3,710.5 891.6,707.6 891.6,715.2 874.3,717.7" fill="#d2bc98" stroke="#d2bc98" stroke-width="0.7"/>
<path d="M876.9 710.1 Q883.0 712.6 889.1 708.0 Z" fill="#4b463c"/>
<polygon points="874.3,718.6 891.6,716.1 891.6,725.8 874.3,728.5" fill="#62615a" stroke="#62615a" stroke-width="0.7"/>
<path d="M876.9 718.2 Q883.0 720.9 889.1 716.5 Z" fill="#3a3833"/>
<polygon points="926.1,659.4 969.5,669.8 969.5,673.8 926.1,662.6" fill="#55534a" stroke="#55534a" stroke-width="0.5" stroke-linejoin="round"/>
<polygon points="919.3,663.9 926.1,662.4 967.7,672.5 964.3,674.3" fill="#d8c4a0" stroke="#d8c4a0" stroke-width="0.5" stroke-linejoin="round"/>
<polygon points="967.7,672.5 969.5,669.8 969.5,677.4 967.7,676.5" fill="#4a4840" stroke="#4a4840" stroke-width="0.5" stroke-linejoin="round"/>
<polygon points="913.7,724.2 915.9,724.2 915.6,732.8 914.0,732.8" fill="#8a7f68" stroke="#8a7f68" stroke-width="0.5" stroke-linejoin="round"/>
<polygon points="938.5,734.0 940.0,734.0 939.8,739.5 938.7,739.5" fill="#8a7f68" stroke="#8a7f68" stroke-width="0.5" stroke-linejoin="round"/>
<polygon points="911.9,693.9 924.9,691.6 968.8,706.2 953.1,708.9" fill="#7a786e" stroke="#7a786e" stroke-width="0.5" stroke-linejoin="round"/>
<polygon points="953.1,708.9 968.8,706.2 968.8,736.6 953.1,740.0" fill="#74726a" stroke="#74726a" stroke-width="0.5" stroke-linejoin="round"/>
<polygon points="911.9,693.9 953.1,708.9 953.1,740.0 912.6,723.8" fill="#8f8a76" stroke="#8f8a76" stroke-width="0.5" stroke-linejoin="round"/>
<polygon points="912.8,695.7 923.8,699.7 923.8,727.6 913.2,723.3" fill="#5e5d54" stroke="#5e5d54" stroke-width="0.7"/>
<path d="M915.0 696.5 Q918.6 700.9 922.2 699.1 Z" fill="#3a3833"/>
<polygon points="924.9,700.6 951.9,710.5 951.9,717.0 924.9,707.4" fill="#d3c19d" stroke="#d3c19d" stroke-width="0.7"/>
<path d="M930.3 702.6 Q935.1 707.4 939.8 706.1 Z" fill="#4b463c"/>
<polygon points="924.9,708.5 938.0,713.2 938.0,733.2 924.9,728.0" fill="#5e5d54" stroke="#5e5d54" stroke-width="0.7"/>
<path d="M927.5 709.4 Q931.8 714.0 936.0 712.5 Z" fill="#3a3833"/>
<polygon points="938.9,713.7 951.9,718.2 951.9,738.6 938.9,733.7" fill="#5e5d54" stroke="#5e5d54" stroke-width="0.7"/>
<path d="M941.5 714.6 Q945.7 719.1 950.0 717.5 Z" fill="#3a3833"/>
<polygon points="951.9,740.0 954.6,740.0 954.3,750.1 952.2,750.1" fill="#ab9d7d" stroke="#ab9d7d" stroke-width="0.5" stroke-linejoin="round"/>
<polygon points="963.6,737.3 965.9,737.3 965.6,747.2 963.9,747.2" fill="#ab9d7d" stroke="#ab9d7d" stroke-width="0.5" stroke-linejoin="round"/>
<polygon points="841.1,776.0 844.6,776.0 843.7,787.4 841.8,787.4" fill="#cdb58a" stroke="#cdb58a" stroke-width="0.5" stroke-linejoin="round"/>
<polygon points="910.3,759.5 913.7,758.6 915.4,768.8 913.6,769.1" fill="#cdb58a" stroke="#cdb58a" stroke-width="0.5" stroke-linejoin="round"/>
<polygon points="790.5,745.1 792.9,746.7 790.9,751.5 789.3,751.1" fill="#cdb58a" stroke="#cdb58a" stroke-width="0.5" stroke-linejoin="round"/>
<path d="M787.0 735.5L803.8 743.9L800.3 755.2L817.9 772.8L824.1 776.5L829.4 764.3L843.7 770.1L921.4 750.9Q924.9 752.2 925.2 755.2Q924.9 758.3 922.1 759.2L844.3 777.8Q840.9 778.1 837.8 776.8L787.6 741.9Q786.3 738.4 787.0 735.5Z" fill="#9c8f7f" />
<path d="M830.2 768.8L843.7 773.9L924.4 754.1L924.0 757.6L844.3 777.4L831.7 772.3Z" fill="#857868" opacity="0.35"/>
<path d="M778.8 718.4L780.1 703.2Q780.9 698.1 786.1 697.2L850.1 688.2Q856.3 687.9 857.6 693.0L861.4 708.8L828.1 714.4L788.5 724.3L781.2 724.3Z" fill="#9c8f7f" />
<circle cx="794.2" cy="709.3" r="0.9" fill="#857868" opacity="0.6"/>
<circle cx="811.2" cy="706.4" r="0.9" fill="#857868" opacity="0.6"/>
<circle cx="830.1" cy="703.6" r="0.9" fill="#857868" opacity="0.6"/>
<circle cx="845.9" cy="701.0" r="0.9" fill="#857868" opacity="0.6"/>
<polygon points="787.6,724.3 804.1,731.4 804.1,744.0 787.6,736.8" fill="#8d8d8d" stroke="#8d8d8d" stroke-width="0.5" stroke-linejoin="round"/>
<polygon points="787.6,724.3 804.1,731.4 803.8,733.9 787.6,728.2" fill="#d9dcdf" stroke="#d9dcdf" stroke-width="0.5" stroke-linejoin="round"/>
<path d="M788.2 724.7Q788.0 722.7 790.3 721.8Q802.3 715.7 813.3 713.5Q821.7 711.9 826.5 712.8Q836.2 717.6 840.7 722.1Q823.3 727.9 805.8 732.0Q804.2 732.3 802.9 731.1Z" fill="#e3e6ea" />
<path d="M828.1 712.8Q839.4 709.0 849.5 707.9Q855.6 707.4 858.8 709.0Q868.6 714.1 874.0 718.4Q860.5 720.8 842.7 723.7Q840.4 721.5 828.1 712.8Z" fill="#eaecef" />
<path d="M805.8 732.0Q823.3 727.9 840.7 722.1L840.4 720.8Q823.3 725.9 804.7 730.4Z" fill="#c9cdd1" />
<polygon points="804.1,733.0 839.4,724.3 872.2,718.9 914.8,737.3 850.1,749.6 837.8,757.3 831.7,768.8 824.1,776.8 817.9,773.0 807.2,762.7 800.4,755.4" fill="#adadab" stroke="#adadab" stroke-width="0.5" stroke-linejoin="round"/>
<polygon points="804.1,733.0 839.4,724.3 872.2,718.9 880.8,722.4 842.4,729.1 806.0,738.7" fill="#9b9b99" stroke="#9b9b99" stroke-width="0.5" stroke-linejoin="round"/>
<polygon points="834.8,746.4 906.0,733.0 910.2,735.1 837.8,749.6" fill="#8e8e8c" stroke="#8e8e8c" stroke-width="0.5" stroke-linejoin="round"/>
<polygon points="800.4,755.4 807.2,762.7 817.9,773.0 824.1,776.8 824.4,772.0 814.9,765.6 806.6,757.6" fill="#a1a19f" stroke="#a1a19f" stroke-width="0.5" stroke-linejoin="round"/>
<polygon points="850.1,749.6 914.8,737.3 919.8,742.9 921.8,751.2 843.5,770.4 829.4,764.3 837.8,757.3" fill="#e4e7ea" stroke="#e4e7ea" stroke-width="0.5" stroke-linejoin="round"/>
<polygon points="843.5,770.4 921.8,751.2 921.5,748.8 842.4,768.0 830.5,763.2 829.4,764.3" fill="#cfd2d5" stroke="#cfd2d5" stroke-width="0.5" stroke-linejoin="round"/>
<polygon points="837.8,757.3 831.7,768.8 824.1,776.8 827.9,771.2 831.4,763.2" fill="#bdbdbb" stroke="#bdbdbb" stroke-width="0.5" stroke-linejoin="round"/>
<polygon points="755.8,746.7 758.0,746.7 757.7,755.3 756.1,755.3" fill="#8a7f68" stroke="#8a7f68" stroke-width="0.5" stroke-linejoin="round"/>
<polygon points="774.2,748.0 776.0,748.0 775.8,752.5 774.4,752.5" fill="#8a7f68" stroke="#8a7f68" stroke-width="0.5" stroke-linejoin="round"/>
<polygon points="753.5,722.4 761.9,726.0 762.5,749.0 754.4,745.6" fill="#57564e" stroke="#57564e" stroke-width="0.5" stroke-linejoin="round"/>
<polygon points="753.5,722.4 776.5,718.6 785.5,723.1 761.9,726.0" fill="#6f6d65" stroke="#6f6d65" stroke-width="0.5" stroke-linejoin="round"/>
<polygon points="761.9,726.0 785.5,723.1 785.5,745.6 762.5,749.0" fill="#8f8a76" stroke="#8f8a76" stroke-width="0.5" stroke-linejoin="round"/>
<polygon points="762.8,727.6 784.6,724.7 784.6,734.3 762.8,737.5" fill="#d2bc98" stroke="#d2bc98" stroke-width="0.7"/>
<path d="M766.0 727.2 Q773.7 729.7 781.3 725.1 Z" fill="#4b463c"/>
<polygon points="762.8,738.4 784.6,735.2 784.6,744.7 762.8,748.1" fill="#62615a" stroke="#62615a" stroke-width="0.7"/>
<path d="M766.0 737.9 Q773.7 740.3 781.3 735.7 Z" fill="#3a3833"/>
<polygon points="761.9,749.4 764.6,749.4 764.3,760.2 762.2,760.2" fill="#ab9d7d" stroke="#ab9d7d" stroke-width="0.5" stroke-linejoin="round"/>
<polygon points="779.2,746.3 781.4,746.3 781.1,756.8 779.5,756.8" fill="#ab9d7d" stroke="#ab9d7d" stroke-width="0.5" stroke-linejoin="round"/>
</svg>
<div class="t l" id="t0" style="left:417.5px;top:169.4px;font-size:11.4px;transform:scaleX(1.0346)">Тумбы</div>
<div class="t l" id="t1" style="left:617.4px;top:168.9px;font-size:11.4px;transform:scaleX(1.1208)">Комод</div>
<div class="t l" id="t2" style="left:795.2px;top:97.9px;font-size:11.4px;transform:scaleX(1.0479)">Полка навесная</div>
<div class="t l" id="t3" style="left:236.9px;top:374.6px;font-size:11.4px;transform:scaleX(1.0304)">Стеллажи</div>
<div class="t l" id="t4" style="left:565.8px;top:375.7px;font-size:11.4px;transform:scaleX(1.0615)">Шкаф-витрины</div>
<div class="t l" id="t5" style="left:785.1px;top:376.6px;font-size:11.4px;transform:scaleX(1.0927)">Шкаф</div>
<div class="t l" id="t6" style="left:948.9px;top:169.9px;font-size:11.4px;transform:scaleX(1.0393)">Скала/Дуб Бунратти</div>
<div class="t l" id="t7" style="left:947.1px;top:307.4px;font-size:11.4px;transform:scaleX(1.0218)">Белый/Дуб Бунратти</div>
<div class="t l" id="t8" style="left:128.4px;top:610.3px;font-size:11.4px;transform:scaleX(1.0446)">Композиция 1</div>
<div class="t l" id="t9" style="left:334.3px;top:610.3px;font-size:11.4px;transform:scaleX(1.0924)">Композиция 2</div>
<div class="t l" id="t10" style="left:535.7px;top:611.2px;font-size:11.4px;transform:scaleX(1.0760)">Композиция 3</div>
<div class="t l" id="t11" style="left:715.8px;top:611.2px;font-size:11.4px;transform:scaleX(1.0705)">Композиция 4</div>
<div class="t l" id="t12" style="left:112.6px;top:801.2px;font-size:11.4px;transform:scaleX(1.0620)">Композиция sp 1</div>
<div class="t l" id="t13" style="left:353.7px;top:801.2px;font-size:11.4px;transform:scaleX(1.0744)">Композиция sp 2</div>
<div class="t l" id="t14" style="left:613.3px;top:801.2px;font-size:11.4px;transform:scaleX(1.0823)">Композиция sp 3</div>
<div class="t l" id="t15" style="left:876.1px;top:801.2px;font-size:11.4px;transform:scaleX(1.0710)">Композиция sp 4</div>
<h2 class="t h" id="t16" style="left:2.5px;top:0.7px;font-size:19.8px;transform:scaleX(1.0357)">Модули коллекции:</h2>
<h2 class="t h" id="t17" style="left:1.7px;top:412.8px;font-size:19.8px;transform:scaleX(1.0467)">Варианты композиций:</h2>
<h2 class="t h" id="t18" style="left:943.2px;top:1.0px;font-size:19.8px;transform:scaleX(1.0034)">Варианты</h2>
<h2 class="t h" id="t19" style="left:941.6px;top:16.9px;font-size:19.8px;transform:scaleX(1.0115)">исполнения:</h2>
</body></html>
